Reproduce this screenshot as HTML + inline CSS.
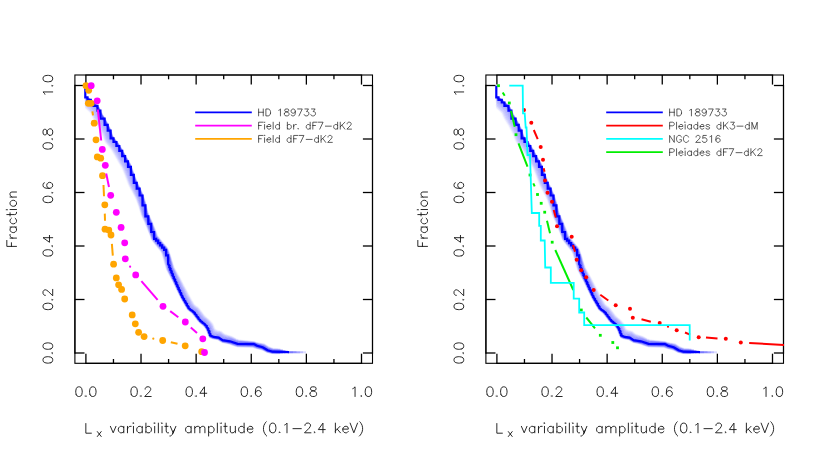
<!DOCTYPE html>
<html><head><meta charset="utf-8"><title>Lx variability amplitude</title>
<style>
html,body{margin:0;padding:0;background:#fff;}
body{width:822px;height:457px;overflow:hidden;font-family:"Liberation Sans",sans-serif;}
svg{display:block;}
text{font-family:"Liberation Sans",sans-serif;}
.h{fill:none;stroke:#111;stroke-linecap:round;stroke-linejoin:round;}
.x{fill:#000;fill-opacity:0;stroke:none;}
</style></head><body>
<svg width="822" height="457" viewBox="0 0 822 457">
<rect width="822" height="457" fill="#fff"/>
<rect x="74.9" y="75.0" width="297.6" height="288.3" fill="none" stroke="#000" stroke-width="1.1"/>
<line x1="85.25" y1="363.3" x2="362.15" y2="363.3" stroke="#000" stroke-width="1.2"/>
<line x1="85.25" y1="75.0" x2="362.15" y2="75.0" stroke="#000" stroke-width="1.2"/>
<line x1="74.9" y1="353.65" x2="74.9" y2="84.85" stroke="#000" stroke-width="1.2"/>
<line x1="372.5" y1="353.65" x2="372.5" y2="84.85" stroke="#000" stroke-width="1.2"/>
<line x1="85.90" y1="363.3" x2="85.90" y2="353.7" stroke="#000" stroke-width="1.3"/>
<line x1="85.90" y1="75.0" x2="85.90" y2="84.6" stroke="#000" stroke-width="1.3"/>
<line x1="113.46" y1="363.3" x2="113.46" y2="359.0" stroke="#000" stroke-width="1.3"/>
<line x1="113.46" y1="75.0" x2="113.46" y2="79.3" stroke="#000" stroke-width="1.3"/>
<line x1="141.02" y1="363.3" x2="141.02" y2="353.7" stroke="#000" stroke-width="1.3"/>
<line x1="141.02" y1="75.0" x2="141.02" y2="84.6" stroke="#000" stroke-width="1.3"/>
<line x1="168.58" y1="363.3" x2="168.58" y2="359.0" stroke="#000" stroke-width="1.3"/>
<line x1="168.58" y1="75.0" x2="168.58" y2="79.3" stroke="#000" stroke-width="1.3"/>
<line x1="196.14" y1="363.3" x2="196.14" y2="353.7" stroke="#000" stroke-width="1.3"/>
<line x1="196.14" y1="75.0" x2="196.14" y2="84.6" stroke="#000" stroke-width="1.3"/>
<line x1="223.70" y1="363.3" x2="223.70" y2="359.0" stroke="#000" stroke-width="1.3"/>
<line x1="223.70" y1="75.0" x2="223.70" y2="79.3" stroke="#000" stroke-width="1.3"/>
<line x1="251.26" y1="363.3" x2="251.26" y2="353.7" stroke="#000" stroke-width="1.3"/>
<line x1="251.26" y1="75.0" x2="251.26" y2="84.6" stroke="#000" stroke-width="1.3"/>
<line x1="278.82" y1="363.3" x2="278.82" y2="359.0" stroke="#000" stroke-width="1.3"/>
<line x1="278.82" y1="75.0" x2="278.82" y2="79.3" stroke="#000" stroke-width="1.3"/>
<line x1="306.38" y1="363.3" x2="306.38" y2="353.7" stroke="#000" stroke-width="1.3"/>
<line x1="306.38" y1="75.0" x2="306.38" y2="84.6" stroke="#000" stroke-width="1.3"/>
<line x1="333.94" y1="363.3" x2="333.94" y2="359.0" stroke="#000" stroke-width="1.3"/>
<line x1="333.94" y1="75.0" x2="333.94" y2="79.3" stroke="#000" stroke-width="1.3"/>
<line x1="361.50" y1="363.3" x2="361.50" y2="353.7" stroke="#000" stroke-width="1.3"/>
<line x1="361.50" y1="75.0" x2="361.50" y2="84.6" stroke="#000" stroke-width="1.3"/>
<line x1="74.9" y1="353.00" x2="84.5" y2="353.00" stroke="#000" stroke-width="1.3"/>
<line x1="372.5" y1="353.00" x2="362.9" y2="353.00" stroke="#000" stroke-width="1.3"/>
<line x1="74.9" y1="299.50" x2="84.5" y2="299.50" stroke="#000" stroke-width="1.3"/>
<line x1="372.5" y1="299.50" x2="362.9" y2="299.50" stroke="#000" stroke-width="1.3"/>
<line x1="74.9" y1="246.00" x2="84.5" y2="246.00" stroke="#000" stroke-width="1.3"/>
<line x1="372.5" y1="246.00" x2="362.9" y2="246.00" stroke="#000" stroke-width="1.3"/>
<line x1="74.9" y1="192.50" x2="84.5" y2="192.50" stroke="#000" stroke-width="1.3"/>
<line x1="372.5" y1="192.50" x2="362.9" y2="192.50" stroke="#000" stroke-width="1.3"/>
<line x1="74.9" y1="139.00" x2="84.5" y2="139.00" stroke="#000" stroke-width="1.3"/>
<line x1="372.5" y1="139.00" x2="362.9" y2="139.00" stroke="#000" stroke-width="1.3"/>
<line x1="74.9" y1="85.50" x2="84.5" y2="85.50" stroke="#000" stroke-width="1.3"/>
<line x1="372.5" y1="85.50" x2="362.9" y2="85.50" stroke="#000" stroke-width="1.3"/>
<path class="h" stroke-width="0.9" d="M76.22,394.66 77.14,396.04 78.52,396.50 79.45,396.50 80.83,396.04 81.75,394.66 82.21,392.35 82.21,390.97 81.75,388.66 80.83,387.28 79.45,386.82 78.52,386.82 77.14,387.28 76.22,388.66 75.76,390.97 75.76,392.35 76.22,394.66M85.44,396.04 85.90,396.50 86.36,396.04 85.90,395.58 85.44,396.04M90.05,394.66 90.97,396.04 92.35,396.50 93.28,396.50 94.66,396.04 95.58,394.66 96.04,392.35 96.04,390.97 95.58,388.66 94.66,387.28 93.28,386.82 92.35,386.82 90.97,387.28 90.05,388.66 89.59,390.97 89.59,392.35 90.05,394.66"/><text class="x" x="74.4" y="396.5" font-size="13.8" textLength="23.1">0.0</text>
<g transform="translate(52.70,353.00) rotate(-90)"><path class="h" stroke-width="0.9" d="M-9.68,-1.84 -8.76,-0.46 -7.38,0.00 -6.45,0.00 -5.07,-0.46 -4.15,-1.84 -3.69,-4.15 -3.69,-5.53 -4.15,-7.84 -5.07,-9.22 -6.45,-9.68 -7.38,-9.68 -8.76,-9.22 -9.68,-7.84 -10.14,-5.53 -10.14,-4.15 -9.68,-1.84M-0.46,-0.46 0.00,0.00 0.46,-0.46 0.00,-0.92 -0.46,-0.46M4.15,-1.84 5.07,-0.46 6.45,0.00 7.38,0.00 8.76,-0.46 9.68,-1.84 10.14,-4.15 10.14,-5.53 9.68,-7.84 8.76,-9.22 7.38,-9.68 6.45,-9.68 5.07,-9.22 4.15,-7.84 3.69,-5.53 3.69,-4.15 4.15,-1.84"/><text class="x" x="-11.5" y="0" font-size="13.8" textLength="23.1">0.0</text></g>
<path class="h" stroke-width="0.9" d="M131.34,394.66 132.26,396.04 133.64,396.50 134.57,396.50 135.95,396.04 136.87,394.66 137.33,392.35 137.33,390.97 136.87,388.66 135.95,387.28 134.57,386.82 133.64,386.82 132.26,387.28 131.34,388.66 130.88,390.97 130.88,392.35 131.34,394.66M140.56,396.04 141.02,396.50 141.48,396.04 141.02,395.58 140.56,396.04M151.16,396.50 144.71,396.50 149.32,391.89 150.24,390.51 150.70,389.58 150.70,388.66 150.24,387.74 149.78,387.28 148.86,386.82 147.01,386.82 146.09,387.28 145.63,387.74 145.17,388.66 145.17,389.12"/><text class="x" x="129.5" y="396.5" font-size="13.8" textLength="23.1">0.2</text>
<g transform="translate(52.70,299.50) rotate(-90)"><path class="h" stroke-width="0.9" d="M-9.68,-1.84 -8.76,-0.46 -7.38,0.00 -6.45,0.00 -5.07,-0.46 -4.15,-1.84 -3.69,-4.15 -3.69,-5.53 -4.15,-7.84 -5.07,-9.22 -6.45,-9.68 -7.38,-9.68 -8.76,-9.22 -9.68,-7.84 -10.14,-5.53 -10.14,-4.15 -9.68,-1.84M-0.46,-0.46 0.00,0.00 0.46,-0.46 0.00,-0.92 -0.46,-0.46M10.14,0.00 3.69,0.00 8.30,-4.61 9.22,-5.99 9.68,-6.92 9.68,-7.84 9.22,-8.76 8.76,-9.22 7.84,-9.68 5.99,-9.68 5.07,-9.22 4.61,-8.76 4.15,-7.84 4.15,-7.38"/><text class="x" x="-11.5" y="0" font-size="13.8" textLength="23.1">0.2</text></g>
<path class="h" stroke-width="0.9" d="M186.46,394.66 187.38,396.04 188.76,396.50 189.69,396.50 191.07,396.04 191.99,394.66 192.45,392.35 192.45,390.97 191.99,388.66 191.07,387.28 189.69,386.82 188.76,386.82 187.38,387.28 186.46,388.66 186.00,390.97 186.00,392.35 186.46,394.66M195.68,396.04 196.14,396.50 196.60,396.04 196.14,395.58 195.68,396.04M204.44,396.50 204.44,386.82 199.83,393.27 206.74,393.27"/><text class="x" x="184.6" y="396.5" font-size="13.8" textLength="23.1">0.4</text>
<g transform="translate(52.70,246.00) rotate(-90)"><path class="h" stroke-width="0.9" d="M-9.68,-1.84 -8.76,-0.46 -7.38,0.00 -6.45,0.00 -5.07,-0.46 -4.15,-1.84 -3.69,-4.15 -3.69,-5.53 -4.15,-7.84 -5.07,-9.22 -6.45,-9.68 -7.38,-9.68 -8.76,-9.22 -9.68,-7.84 -10.14,-5.53 -10.14,-4.15 -9.68,-1.84M-0.46,-0.46 0.00,0.00 0.46,-0.46 0.00,-0.92 -0.46,-0.46M8.30,0.00 8.30,-9.68 3.69,-3.23 10.60,-3.23"/><text class="x" x="-11.5" y="0" font-size="13.8" textLength="23.1">0.4</text></g>
<path class="h" stroke-width="0.9" d="M241.58,394.66 242.50,396.04 243.88,396.50 244.81,396.50 246.19,396.04 247.11,394.66 247.57,392.35 247.57,390.97 247.11,388.66 246.19,387.28 244.81,386.82 243.88,386.82 242.50,387.28 241.58,388.66 241.12,390.97 241.12,392.35 241.58,394.66M250.80,396.04 251.26,396.50 251.72,396.04 251.26,395.58 250.80,396.04M255.41,393.27 255.87,391.89 256.79,390.97 258.18,390.51 258.64,390.51 260.02,390.97 260.94,391.89 261.40,393.27 261.40,393.73 260.94,395.12 260.02,396.04 258.64,396.50 258.18,396.50 256.79,396.04 255.87,395.12 255.41,393.27 255.41,390.97 255.87,388.66 256.79,387.28 258.18,386.82 259.10,386.82 260.48,387.28 260.94,388.20"/><text class="x" x="239.7" y="396.5" font-size="13.8" textLength="23.1">0.6</text>
<g transform="translate(52.70,192.50) rotate(-90)"><path class="h" stroke-width="0.9" d="M-9.68,-1.84 -8.76,-0.46 -7.38,0.00 -6.45,0.00 -5.07,-0.46 -4.15,-1.84 -3.69,-4.15 -3.69,-5.53 -4.15,-7.84 -5.07,-9.22 -6.45,-9.68 -7.38,-9.68 -8.76,-9.22 -9.68,-7.84 -10.14,-5.53 -10.14,-4.15 -9.68,-1.84M-0.46,-0.46 0.00,0.00 0.46,-0.46 0.00,-0.92 -0.46,-0.46M4.15,-3.23 4.61,-4.61 5.53,-5.53 6.92,-5.99 7.38,-5.99 8.76,-5.53 9.68,-4.61 10.14,-3.23 10.14,-2.77 9.68,-1.38 8.76,-0.46 7.38,0.00 6.92,0.00 5.53,-0.46 4.61,-1.38 4.15,-3.23 4.15,-5.53 4.61,-7.84 5.53,-9.22 6.92,-9.68 7.84,-9.68 9.22,-9.22 9.68,-8.30"/><text class="x" x="-11.5" y="0" font-size="13.8" textLength="23.1">0.6</text></g>
<path class="h" stroke-width="0.9" d="M296.70,394.66 297.62,396.04 299.00,396.50 299.93,396.50 301.31,396.04 302.23,394.66 302.69,392.35 302.69,390.97 302.23,388.66 301.31,387.28 299.93,386.82 299.00,386.82 297.62,387.28 296.70,388.66 296.24,390.97 296.24,392.35 296.70,394.66M305.92,396.04 306.38,396.50 306.84,396.04 306.38,395.58 305.92,396.04M310.07,393.27 310.07,394.66 310.53,395.58 310.99,396.04 312.37,396.50 314.22,396.50 315.60,396.04 316.06,395.58 316.52,394.66 316.52,393.27 316.06,392.35 315.14,391.43 313.76,390.97 311.91,390.51 310.99,390.05 310.53,389.12 310.53,388.20 310.99,387.28 312.37,386.82 314.22,386.82 315.60,387.28 316.06,388.20 316.06,389.12 315.60,390.05 314.68,390.51 312.83,390.97 311.45,391.43 310.53,392.35 310.07,393.27"/><text class="x" x="294.9" y="396.5" font-size="13.8" textLength="23.1">0.8</text>
<g transform="translate(52.70,139.00) rotate(-90)"><path class="h" stroke-width="0.9" d="M-9.68,-1.84 -8.76,-0.46 -7.38,0.00 -6.45,0.00 -5.07,-0.46 -4.15,-1.84 -3.69,-4.15 -3.69,-5.53 -4.15,-7.84 -5.07,-9.22 -6.45,-9.68 -7.38,-9.68 -8.76,-9.22 -9.68,-7.84 -10.14,-5.53 -10.14,-4.15 -9.68,-1.84M-0.46,-0.46 0.00,0.00 0.46,-0.46 0.00,-0.92 -0.46,-0.46M3.69,-3.23 3.69,-1.84 4.15,-0.92 4.61,-0.46 5.99,0.00 7.84,0.00 9.22,-0.46 9.68,-0.92 10.14,-1.84 10.14,-3.23 9.68,-4.15 8.76,-5.07 7.38,-5.53 5.53,-5.99 4.61,-6.45 4.15,-7.38 4.15,-8.30 4.61,-9.22 5.99,-9.68 7.84,-9.68 9.22,-9.22 9.68,-8.30 9.68,-7.38 9.22,-6.45 8.30,-5.99 6.45,-5.53 5.07,-5.07 4.15,-4.15 3.69,-3.23"/><text class="x" x="-11.5" y="0" font-size="13.8" textLength="23.1">0.8</text></g>
<path class="h" stroke-width="0.9" d="M355.05,396.50 355.05,386.82 353.66,388.20 352.74,388.66M361.04,396.04 361.50,396.50 361.96,396.04 361.50,395.58 361.04,396.04M365.65,394.66 366.57,396.04 367.95,396.50 368.88,396.50 370.26,396.04 371.18,394.66 371.64,392.35 371.64,390.97 371.18,388.66 370.26,387.28 368.88,386.82 367.95,386.82 366.57,387.28 365.65,388.66 365.19,390.97 365.19,392.35 365.65,394.66"/><text class="x" x="350.0" y="396.5" font-size="13.8" textLength="23.1">1.0</text>
<g transform="translate(52.70,85.50) rotate(-90)"><path class="h" stroke-width="0.9" d="M-6.45,0.00 -6.45,-9.68 -7.84,-8.30 -8.76,-7.84M-0.46,-0.46 0.00,0.00 0.46,-0.46 0.00,-0.92 -0.46,-0.46M4.15,-1.84 5.07,-0.46 6.45,0.00 7.38,0.00 8.76,-0.46 9.68,-1.84 10.14,-4.15 10.14,-5.53 9.68,-7.84 8.76,-9.22 7.38,-9.68 6.45,-9.68 5.07,-9.22 4.15,-7.84 3.69,-5.53 3.69,-4.15 4.15,-1.84"/><text class="x" x="-11.5" y="0" font-size="13.8" textLength="23.1">1.0</text></g>
<g transform="translate(16.50,219.20) rotate(-90)"><path class="h" stroke-width="0.9" d="M-27.20,0.00 -27.20,-9.68 -21.21,-9.68M-27.20,-5.07 -23.51,-5.07M-18.90,0.00 -18.90,-6.45M-18.90,-3.69 -18.44,-5.07 -17.52,-5.99 -16.60,-6.45 -15.21,-6.45M-7.84,0.00 -7.84,-6.45M-7.84,-1.38 -8.76,-0.46 -9.68,0.00 -11.06,0.00 -11.99,-0.46 -12.91,-1.38 -13.37,-2.77 -13.37,-3.69 -12.91,-5.07 -11.99,-5.99 -11.06,-6.45 -9.68,-6.45 -8.76,-5.99 -7.84,-5.07M0.92,-1.38 -0.00,-0.46 -0.92,0.00 -2.31,0.00 -3.23,-0.46 -4.15,-1.38 -4.61,-2.77 -4.61,-3.69 -4.15,-5.07 -3.23,-5.99 -2.31,-6.45 -0.92,-6.45 -0.00,-5.99 0.92,-5.07M6.91,0.00 5.99,0.00 5.07,-0.46 4.61,-1.84 4.61,-9.68M3.23,-6.45 6.45,-6.45M9.68,0.00 9.68,-6.45M9.22,-9.68 9.68,-9.22 10.14,-9.68 9.68,-10.14 9.22,-9.68M13.37,-1.38 14.29,-0.46 15.21,0.00 16.60,0.00 17.52,-0.46 18.44,-1.38 18.90,-2.77 18.90,-3.69 18.44,-5.07 17.52,-5.99 16.60,-6.45 15.21,-6.45 14.29,-5.99 13.37,-5.07 12.91,-3.69 12.91,-2.77 13.37,-1.38M22.13,0.00 22.13,-6.45M27.20,0.00 27.20,-4.61 26.74,-5.99 25.82,-6.45 24.43,-6.45 23.51,-5.99 22.13,-4.61"/><text class="x" x="-29.0" y="0" font-size="13.8" textLength="58.1">Fraction</text></g>
<path class="h" stroke-width="0.9" d="M91.38,433.20 85.84,433.20 85.84,423.52"/><text class="x" x="84.0" y="433.2" font-size="13.8" textLength="7.8">L</text>
<path class="h" stroke-width="0.9" d="M101.20,436.50 97.35,431.60M97.35,436.50 101.20,431.60"/><text class="x" x="96.3" y="436.5" font-size="10.5" textLength="5.9">x</text>
<path class="h" stroke-width="0.9" d="M110.42,426.35 113.19,432.80 115.95,426.35M123.79,432.80 123.79,426.35M123.79,431.42 122.87,432.34 121.95,432.80 120.56,432.80 119.64,432.34 118.72,431.42 118.26,430.03 118.26,429.11 118.72,427.73 119.64,426.81 120.56,426.35 121.95,426.35 122.87,426.81 123.79,427.73M127.48,432.80 127.48,426.35M127.48,429.11 127.94,427.73 128.86,426.81 129.78,426.35 131.17,426.35M133.47,432.80 133.47,426.35M133.01,423.12 133.47,423.58 133.93,423.12 133.47,422.66 133.01,423.12M142.23,432.80 142.23,426.35M142.23,431.42 141.31,432.34 140.39,432.80 139.00,432.80 138.08,432.34 137.16,431.42 136.70,430.03 136.70,429.11 137.16,427.73 138.08,426.81 139.00,426.35 140.39,426.35 141.31,426.81 142.23,427.73M145.92,432.80 145.92,423.12M145.92,431.42 146.84,432.34 147.76,432.80 149.15,432.80 150.07,432.34 150.99,431.42 151.45,430.03 151.45,429.11 150.99,427.73 150.07,426.81 149.15,426.35 147.76,426.35 146.84,426.81 145.92,427.73M154.68,432.80 154.68,426.35M154.22,423.12 154.68,423.58 155.14,423.12 154.68,422.66 154.22,423.12M158.37,432.80 158.37,423.12M162.05,432.80 162.05,426.35M161.59,423.12 162.05,423.58 162.51,423.12 162.05,422.66 161.59,423.12M168.51,432.80 167.59,432.80 166.66,432.34 166.20,430.96 166.20,423.12M164.82,426.35 168.05,426.35M170.35,426.35 173.12,432.80 175.88,426.35M172.66,433.72 174.50,429.57M169.89,436.03 170.35,436.03 171.27,435.57 172.20,434.64 173.12,432.80M191.10,432.80 191.10,426.35M191.10,431.42 190.17,432.34 189.25,432.80 187.87,432.80 186.95,432.34 186.03,431.42 185.56,430.03 185.56,429.11 186.03,427.73 186.95,426.81 187.87,426.35 189.25,426.35 190.17,426.81 191.10,427.73M194.78,432.80 194.78,426.35M204.93,432.80 204.93,428.19 204.47,426.81 203.54,426.35 202.16,426.35 201.24,426.81 199.86,428.19 199.39,426.81 198.47,426.35 197.09,426.35 196.17,426.81 194.78,428.19M199.86,432.80 199.86,428.19M208.61,436.03 208.61,426.35M208.61,431.42 209.54,432.34 210.46,432.80 211.84,432.80 212.76,432.34 213.69,431.42 214.15,430.03 214.15,429.11 213.69,427.73 212.76,426.81 211.84,426.35 210.46,426.35 209.54,426.81 208.61,427.73M217.37,432.80 217.37,423.12M221.06,432.80 221.06,426.35M220.60,423.12 221.06,423.58 221.52,423.12 221.06,422.66 220.60,423.12M227.52,432.80 226.59,432.80 225.67,432.34 225.21,430.96 225.21,423.12M223.83,426.35 227.05,426.35M235.35,432.80 235.35,426.35M235.35,430.96 233.97,432.34 233.05,432.80 231.66,432.80 230.74,432.34 230.28,430.96 230.28,426.35M244.11,432.80 244.11,423.12M244.11,431.42 243.19,432.34 242.27,432.80 240.88,432.80 239.96,432.34 239.04,431.42 238.58,430.03 238.58,429.11 239.04,427.73 239.96,426.81 240.88,426.35 242.27,426.35 243.19,426.81 244.11,427.73M251.95,426.81 251.03,426.35 249.64,426.35 248.72,426.81 247.80,427.73 247.34,429.11 252.87,429.11 252.87,428.19 252.41,427.27 251.95,426.81M252.87,431.42 251.95,432.34 251.03,432.80 249.64,432.80 248.72,432.34 247.80,431.42 247.34,430.03 247.34,429.11M266.70,436.03 265.78,435.11 264.86,433.72 263.93,431.88 263.47,429.57 263.47,427.73 263.93,425.42 264.86,423.58 265.78,422.20 266.24,421.74M269.93,430.96 270.85,432.34 272.23,432.80 273.15,432.80 274.54,432.34 275.46,430.96 275.92,428.65 275.92,427.27 275.46,424.96 274.54,423.58 273.15,423.12 272.23,423.12 270.85,423.58 269.93,424.96 269.47,427.27 269.47,428.65 269.93,430.96M279.15,432.34 279.61,432.80 280.07,432.34 279.61,431.88 279.15,432.34M286.99,432.80 286.99,423.12 285.60,424.50 284.68,424.96M292.98,428.65 301.28,428.65M310.96,432.80 304.50,432.80 309.11,428.19 310.04,426.81 310.50,425.88 310.50,424.96 310.04,424.04 309.57,423.58 308.65,423.12 306.81,423.12 305.89,423.58 305.43,424.04 304.96,424.96 304.96,425.42M314.18,432.34 314.65,432.80 315.11,432.34 314.65,431.88 314.18,432.34M322.94,432.80 322.94,423.12 318.33,429.57 325.25,429.57M335.39,432.80 335.39,423.12M335.39,430.96 340.00,426.35M340.46,432.80 337.23,429.11M347.38,426.81 346.45,426.35 345.07,426.35 344.15,426.81 343.23,427.73 342.77,429.11 348.30,429.11 348.30,428.19 347.84,427.27 347.38,426.81M348.30,431.42 347.38,432.34 346.45,432.80 345.07,432.80 344.15,432.34 343.23,431.42 342.77,430.03 342.77,429.11M350.14,423.12 353.83,432.80 357.52,423.12M359.36,436.03 360.28,435.11 361.21,433.72 362.13,431.88 362.59,429.57 362.59,427.73 362.13,425.42 361.21,423.58 360.28,422.20 359.82,421.74"/><text class="x" x="109.5" y="432.8" font-size="13.8" textLength="254.9">variability amplitude (0.1−2.4 keV)</text>
<g fill="none" stroke="#0000ff" stroke-width="2" stroke-linejoin="round">
<path stroke-opacity="0.208" d="M85.3,96.0 L85.8,98.4 L87.7,100.0 L89.7,101.7 L91.6,103.5 L93.5,105.3 L95.3,107.1 L97.0,108.9 L98.0,111.3 L99.1,113.6 L100.2,115.9 L101.6,118.0 L102.9,120.2 L104.2,122.5 L105.3,124.8 L106.5,127.1 L107.7,129.4 L108.7,131.7 L109.5,134.2 L110.2,136.7 L111.4,138.9 L113.1,140.9 L114.7,142.9 L116.3,144.9 L117.7,147.2 L119.0,149.4 L120.3,151.6 L121.5,153.8 L122.8,156.1 L124.0,158.3 L125.3,160.6 L126.6,162.8 L127.9,165.0 L128.8,167.3 L129.7,169.8 L130.6,172.2 L131.5,174.6 L132.3,177.0 L133.2,179.4 L134.1,181.9 L135.1,184.2 L136.3,186.5 L137.5,188.8 L138.5,191.2 L139.5,193.5 L140.6,195.9 L141.4,198.3 L142.1,200.8 L142.8,203.3 L143.5,205.7 L144.1,208.3 L144.6,210.8 L145.2,213.3 L146.1,215.7 L147.1,218.1 L148.1,220.5 L149.0,222.9 L149.9,225.3 L150.8,227.8 L151.6,230.2 L152.5,232.6 L153.3,235.1 L154.2,237.5 L155.7,239.6 L157.4,241.6 L159.0,243.6 L160.7,245.5 L162.4,247.5 L164.1,249.4 L165.3,251.6 L166.1,254.0 L167.0,256.4 L167.8,258.8 L168.3,261.3 L168.9,263.9 L169.4,266.4 L169.9,268.9 L170.9,271.3 L171.9,273.7 L172.9,276.1 L173.9,278.4 L175.0,280.8 L176.1,283.1 L177.1,285.5 L178.2,287.9 L179.2,290.2 L180.3,292.6 L181.4,294.9 L182.5,297.2 L183.8,299.5 L185.1,301.7 L186.4,304.0 L187.7,306.2 L189.0,308.4 L190.9,310.1 L193.0,311.6 L194.7,313.5 L196.3,315.5 L197.8,317.6 L199.4,319.7 L201.1,321.5 L203.1,323.1 L205.1,324.8 L206.7,326.8 L208.0,329.0 L208.9,331.4 L209.8,333.9 L211.0,336.0 L213.4,337.0 L216.0,337.4 L218.5,337.8 L220.7,339.1 L223.0,340.4 L225.5,340.8 L228.0,341.2 L230.6,341.8 L233.0,342.6 L235.5,343.4 L238.0,344.1 L240.5,344.2 L243.1,344.2 L245.7,344.3 L248.3,344.3 L250.9,344.4 L253.4,344.4 L255.7,345.4 L258.1,346.3 L260.6,347.0 L263.0,347.8 L265.3,349.1 L267.5,350.4 L270.0,351.1 L272.4,351.8 L275.0,351.9 L277.6,352.0 L280.2,352.1 L282.8,352.1 L285.4,352.2 L287.9,352.2"/>
<path stroke-opacity="0.191" d="M85.3,98.9 L86.8,100.6 L88.8,102.4 L90.8,104.2 L92.7,106.0 L94.5,107.7 L96.2,109.6 L97.2,111.9 L98.2,114.2 L99.3,116.4 L100.6,118.5 L102.0,120.7 L103.3,122.9 L104.4,125.2 L105.6,127.5 L106.7,129.8 L107.8,132.2 L108.6,134.7 L109.4,137.1 L110.6,139.4 L112.2,141.4 L113.9,143.4 L115.5,145.5 L116.9,147.7 L118.2,149.9 L119.5,152.1 L120.7,154.3 L121.9,156.5 L123.2,158.8 L124.4,161.0 L125.7,163.2 L127.0,165.4 L128.0,167.7 L128.9,170.1 L129.8,172.5 L130.6,174.9 L131.5,177.3 L132.4,179.8 L133.3,182.2 L134.3,184.6 L135.5,186.9 L136.7,189.2 L137.8,191.5 L138.8,193.8 L139.8,196.2 L140.7,198.6 L141.4,201.0 L142.1,203.4 L142.9,205.9 L143.5,208.4 L144.1,210.9 L144.7,213.5 L145.6,215.9 L146.6,218.3 L147.6,220.7 L148.5,223.1 L149.4,225.5 L150.3,227.9 L151.2,230.4 L152.1,232.8 L153.0,235.3 L153.8,237.8 L155.4,239.8 L157.0,241.8 L158.6,243.9 L160.3,245.8 L162.0,247.8 L163.6,249.7 L164.8,251.8 L165.6,254.2 L166.4,256.6 L167.2,259.0 L167.8,261.5 L168.3,264.0 L168.9,266.5 L169.5,269.0 L170.5,271.4 L171.6,273.8 L172.6,276.2 L173.7,278.6 L174.8,280.9 L175.8,283.3 L176.9,285.6 L177.9,288.0 L179.0,290.3 L180.1,292.7 L181.2,295.0 L182.3,297.3 L183.6,299.6 L184.9,301.8 L186.2,304.1 L187.5,306.3 L188.8,308.6 L190.7,310.2 L192.8,311.7 L194.6,313.6 L196.1,315.7 L197.6,317.8 L199.2,319.8 L200.9,321.6 L202.9,323.3 L204.9,324.9 L206.5,326.9 L207.8,329.2 L208.7,331.6 L209.6,334.0 L210.8,336.2 L213.3,337.2 L215.8,337.6 L218.4,338.0 L220.6,339.4 L222.9,340.7 L225.4,341.1 L228.0,341.5 L230.5,342.1 L233.0,342.9 L235.4,343.8 L237.9,344.5 L240.5,344.5 L243.1,344.6 L245.7,344.6 L248.2,344.7 L250.8,344.7 L253.3,344.8 L255.6,345.8 L258.0,346.6 L260.5,347.3 L262.9,348.1 L265.2,349.4 L267.4,350.7 L269.9,351.4 L272.4,352.0 L275.0,352.1 L277.6,352.2 L280.2,352.3 L282.8,352.3 L285.4,352.4"/>
<path stroke-opacity="0.174" d="M85.3,100.3 L85.9,101.2 L88.0,103.0 L90.0,104.8 L91.9,106.7 L93.7,108.4 L95.3,110.2 L96.3,112.5 L97.3,114.7 L98.4,116.9 L99.7,119.0 L101.0,121.2 L102.3,123.4 L103.5,125.7 L104.6,127.9 L105.8,130.2 L106.9,132.6 L107.7,135.1 L108.5,137.6 L109.7,139.9 L111.4,141.9 L113.0,143.9 L114.7,146.0 L116.1,148.2 L117.4,150.4 L118.7,152.6 L119.9,154.8 L121.1,157.0 L122.3,159.2 L123.6,161.4 L124.9,163.6 L126.2,165.8 L127.2,168.1 L128.0,170.5 L128.9,172.8 L129.8,175.2 L130.7,177.7 L131.6,180.1 L132.5,182.5 L133.5,184.9 L134.7,187.2 L135.9,189.5 L137.0,191.8 L138.1,194.1 L139.1,196.4 L140.0,198.8 L140.7,201.2 L141.5,203.6 L142.2,206.1 L142.9,208.6 L143.5,211.1 L144.1,213.6 L145.0,216.0 L146.1,218.4 L147.1,220.8 L148.0,223.2 L149.0,225.7 L149.9,228.1 L150.8,230.5 L151.7,233.0 L152.6,235.5 L153.4,238.0 L155.0,240.1 L156.6,242.1 L158.2,244.1 L159.9,246.1 L161.5,248.0 L163.2,249.9 L164.3,252.1 L165.1,254.5 L165.9,256.8 L166.7,259.2 L167.2,261.7 L167.8,264.2 L168.4,266.7 L169.0,269.2 L170.1,271.5 L171.2,273.9 L172.3,276.3 L173.4,278.7 L174.5,281.0 L175.6,283.4 L176.6,285.7 L177.7,288.1 L178.8,290.4 L179.9,292.8 L181.0,295.1 L182.1,297.4 L183.4,299.7 L184.7,302.0 L186.0,304.2 L187.3,306.5 L188.6,308.7 L190.5,310.3 L192.7,311.8 L194.4,313.7 L195.9,315.8 L197.5,317.9 L199.0,320.0 L200.8,321.8 L202.8,323.4 L204.7,325.1 L206.3,327.0 L207.6,329.3 L208.6,331.8 L209.5,334.2 L210.7,336.4 L213.1,337.4 L215.7,337.8 L218.3,338.2 L220.6,339.6 L222.8,340.9 L225.3,341.4 L227.9,341.9 L230.4,342.4 L232.9,343.3 L235.4,344.1 L237.9,344.9 L240.5,344.9 L243.0,345.0 L245.6,345.0 L248.2,345.1 L250.7,345.1 L253.3,345.2 L255.6,346.1 L257.9,347.0 L260.4,347.6 L262.8,348.3 L265.1,349.6 L267.3,350.9 L269.8,351.6 L272.4,352.3 L275.0,352.4 L277.6,352.4 L280.2,352.5 L282.8,352.5 L285.4,352.6"/>
<path stroke-opacity="0.154" d="M85.3,102.0 L87.1,103.6 L89.1,105.5 L91.1,107.3 L92.9,109.1 L94.4,110.8 L95.4,113.1 L96.4,115.3 L97.5,117.4 L98.8,119.5 L100.1,121.7 L101.4,123.9 L102.6,126.1 L103.7,128.4 L104.9,130.7 L106.0,133.1 L106.8,135.6 L107.6,138.1 L108.9,140.3 L110.5,142.4 L112.2,144.4 L113.9,146.5 L115.2,148.7 L116.6,150.9 L117.9,153.1 L119.1,155.3 L120.3,157.5 L121.5,159.7 L122.8,161.8 L124.1,164.0 L125.4,166.1 L126.3,168.5 L127.2,170.8 L128.1,173.2 L129.0,175.6 L129.9,178.0 L130.7,180.4 L131.6,182.9 L132.7,185.2 L133.9,187.5 L135.1,189.8 L136.2,192.1 L137.3,194.4 L138.4,196.7 L139.3,199.0 L140.0,201.4 L140.8,203.8 L141.6,206.3 L142.2,208.8 L142.9,211.3 L143.5,213.8 L144.5,216.2 L145.5,218.6 L146.6,221.0 L147.6,223.4 L148.5,225.8 L149.4,228.3 L150.4,230.7 L151.3,233.2 L152.2,235.7 L153.0,238.2 L154.6,240.3 L156.2,242.4 L157.8,244.4 L159.5,246.4 L161.1,248.3 L162.7,250.2 L163.9,252.3 L164.6,254.7 L165.4,257.0 L166.1,259.4 L166.7,261.8 L167.3,264.3 L168.0,266.8 L168.6,269.3 L169.7,271.7 L170.9,274.0 L172.0,276.4 L173.1,278.8 L174.3,281.1 L175.3,283.5 L176.4,285.8 L177.5,288.2 L178.6,290.5 L179.7,292.9 L180.8,295.2 L181.9,297.5 L183.2,299.8 L184.5,302.1 L185.8,304.3 L187.1,306.6 L188.4,308.8 L190.4,310.5 L192.5,312.0 L194.2,313.9 L195.8,316.0 L197.3,318.1 L198.9,320.1 L200.6,321.9 L202.6,323.5 L204.5,325.2 L206.2,327.2 L207.5,329.5 L208.4,331.9 L209.3,334.4 L210.5,336.6 L213.0,337.6 L215.6,338.0 L218.2,338.5 L220.5,339.9 L222.7,341.2 L225.2,341.7 L227.8,342.2 L230.3,342.7 L232.8,343.6 L235.3,344.5 L237.8,345.2 L240.4,345.3 L243.0,345.4 L245.6,345.4 L248.1,345.5 L250.7,345.5 L253.2,345.6 L255.5,346.5 L257.8,347.3 L260.3,347.9 L262.7,348.6 L265.0,349.9 L267.3,351.2 L269.8,351.8 L272.3,352.5 L274.9,352.6 L277.5,352.6 L280.2,352.7 L282.8,352.7"/>
<path stroke-opacity="0.133" d="M85.3,103.4 L86.3,104.3 L88.3,106.2 L90.3,108.0 L92.0,109.7 L93.6,111.5 L94.5,113.7 L95.5,115.9 L96.6,118.0 L97.9,120.0 L99.2,122.2 L100.5,124.3 L101.7,126.6 L102.8,128.8 L104.0,131.1 L105.2,133.5 L106.0,136.0 L106.8,138.6 L108.0,140.8 L109.7,142.9 L111.4,144.9 L113.1,147.0 L114.4,149.2 L115.8,151.4 L117.1,153.5 L118.3,155.7 L119.5,157.9 L120.7,160.1 L121.9,162.2 L123.2,164.4 L124.5,166.5 L125.5,168.8 L126.4,171.2 L127.2,173.5 L128.1,175.9 L129.0,178.3 L129.9,180.8 L130.8,183.2 L131.9,185.6 L133.1,187.9 L134.4,190.1 L135.5,192.4 L136.6,194.7 L137.7,196.9 L138.6,199.3 L139.4,201.6 L140.2,204.0 L141.0,206.5 L141.6,209.0 L142.3,211.5 L143.0,214.0 L144.0,216.4 L145.0,218.8 L146.1,221.2 L147.1,223.6 L148.0,226.0 L149.0,228.4 L149.9,230.9 L150.9,233.4 L151.8,235.9 L152.6,238.4 L154.2,240.5 L155.8,242.6 L157.4,244.7 L159.1,246.7 L160.7,248.6 L162.3,250.5 L163.4,252.6 L164.1,254.9 L164.8,257.2 L165.6,259.6 L166.1,262.0 L166.8,264.5 L167.5,267.0 L168.2,269.4 L169.3,271.8 L170.5,274.2 L171.7,276.5 L172.8,278.9 L174.0,281.2 L175.1,283.6 L176.2,285.9 L177.3,288.3 L178.4,290.6 L179.5,293.0 L180.6,295.3 L181.7,297.6 L183.0,299.9 L184.3,302.2 L185.6,304.5 L186.9,306.7 L188.3,309.0 L190.2,310.6 L192.3,312.1 L194.0,314.0 L195.6,316.1 L197.2,318.2 L198.7,320.3 L200.4,322.1 L202.4,323.7 L204.3,325.3 L206.0,327.3 L207.3,329.6 L208.2,332.1 L209.1,334.6 L210.3,336.8 L212.8,337.8 L215.5,338.3 L218.1,338.7 L220.4,340.1 L222.6,341.5 L225.2,342.0 L227.7,342.5 L230.2,343.1 L232.8,344.0 L235.3,344.9 L237.8,345.6 L240.4,345.7 L242.9,345.7 L245.5,345.8 L248.1,345.9 L250.6,345.9 L253.1,346.0 L255.4,346.9 L257.7,347.7 L260.2,348.2 L262.6,348.9 L264.9,350.2 L267.2,351.4 L269.7,352.1 L272.3,352.7 L274.9,352.8 L277.5,352.9 L280.1,352.9 L282.8,353.0"/>
<path stroke-opacity="0.108" d="M85.3,104.8 L85.4,104.9 L87.5,106.8 L89.4,108.7 L91.2,110.4 L92.7,112.1 L93.7,114.3 L94.6,116.4 L95.7,118.5 L97.0,120.5 L98.3,122.6 L99.6,124.8 L100.7,127.0 L101.9,129.2 L103.1,131.5 L104.3,133.9 L105.1,136.5 L105.9,139.0 L107.2,141.3 L108.8,143.3 L110.5,145.4 L112.2,147.5 L113.6,149.8 L115.0,151.9 L116.2,154.0 L117.4,156.2 L118.7,158.4 L119.9,160.5 L121.1,162.7 L122.4,164.8 L123.7,166.9 L124.7,169.2 L125.5,171.5 L126.4,173.9 L127.3,176.2 L128.2,178.6 L129.1,181.1 L130.0,183.5 L131.1,185.9 L132.3,188.2 L133.6,190.4 L134.7,192.7 L135.9,195.0 L137.0,197.2 L137.9,199.5 L138.7,201.8 L139.5,204.2 L140.3,206.6 L141.0,209.1 L141.7,211.6 L142.4,214.1 L143.4,216.6 L144.5,218.9 L145.6,221.3 L146.6,223.8 L147.6,226.2 L148.5,228.6 L149.5,231.1 L150.5,233.6 L151.4,236.1 L152.2,238.6 L153.8,240.8 L155.4,242.9 L157.0,244.9 L158.6,247.0 L160.3,248.9 L161.8,250.7 L162.9,252.8 L163.6,255.1 L164.3,257.4 L165.0,259.7 L165.5,262.2 L166.3,264.6 L167.0,267.1 L167.7,269.6 L168.9,271.9 L170.2,274.3 L171.3,276.7 L172.5,279.0 L173.7,281.3 L174.8,283.7 L175.9,286.0 L177.0,288.4 L178.1,290.7 L179.3,293.1 L180.4,295.4 L181.5,297.7 L182.8,300.0 L184.1,302.3 L185.4,304.6 L186.8,306.9 L188.1,309.1 L190.0,310.8 L192.1,312.3 L193.9,314.2 L195.4,316.3 L197.0,318.4 L198.5,320.4 L200.3,322.2 L202.2,323.8 L204.2,325.5 L205.8,327.5 L207.1,329.8 L208.1,332.3 L209.0,334.8 L210.2,337.0 L212.7,338.0 L215.3,338.5 L218.0,338.9 L220.3,340.4 L222.6,341.8 L225.1,342.3 L227.6,342.8 L230.2,343.4 L232.7,344.3 L235.2,345.2 L237.7,346.0 L240.3,346.0 L242.9,346.1 L245.5,346.2 L248.0,346.3 L250.6,346.3 L253.0,346.4 L255.3,347.2 L257.6,348.0 L260.1,348.5 L262.5,349.2 L264.8,350.4 L267.1,351.7 L269.7,352.3 L272.2,352.9 L274.8,353.0 L277.5,353.1 L280.1,353.1"/>
<path stroke-opacity="0.077" d="M85.3,106.2 L86.6,107.5 L88.6,109.4 L90.4,111.1 L91.9,112.7 L92.8,114.9 L93.7,117.0 L94.8,119.0 L96.0,121.0 L97.4,123.1 L98.7,125.3 L99.8,127.5 L101.0,129.7 L102.2,132.0 L103.4,134.4 L104.2,137.0 L105.1,139.5 L106.3,141.8 L108.0,143.8 L109.7,145.9 L111.4,148.0 L112.8,150.3 L114.1,152.4 L115.4,154.5 L116.6,156.7 L117.8,158.8 L119.0,161.0 L120.3,163.1 L121.6,165.2 L122.9,167.3 L123.8,169.6 L124.7,171.9 L125.6,174.2 L126.5,176.6 L127.4,179.0 L128.3,181.4 L129.2,183.9 L130.3,186.3 L131.5,188.5 L132.8,190.7 L134.0,193.0 L135.1,195.3 L136.3,197.5 L137.2,199.7 L138.0,202.0 L138.9,204.4 L139.7,206.8 L140.4,209.3 L141.1,211.8 L141.9,214.3 L142.9,216.7 L144.0,219.1 L145.1,221.5 L146.1,223.9 L147.1,226.3 L148.1,228.8 L149.1,231.3 L150.1,233.7 L151.1,236.2 L151.8,238.9 L153.4,241.0 L155.0,243.1 L156.6,245.2 L158.2,247.2 L159.8,249.2 L161.4,251.0 L162.4,253.1 L163.1,255.4 L163.8,257.6 L164.4,259.9 L165.0,262.3 L165.8,264.8 L166.5,267.2 L167.3,269.7 L168.5,272.1 L169.8,274.4 L171.0,276.8 L172.3,279.1 L173.5,281.4 L174.6,283.8 L175.7,286.1 L176.8,288.5 L177.9,290.8 L179.0,293.2 L180.2,295.5 L181.3,297.9 L182.6,300.1 L183.9,302.4 L185.2,304.7 L186.6,307.0 L187.9,309.2 L189.8,310.9 L192.0,312.4 L193.7,314.3 L195.3,316.5 L196.8,318.5 L198.4,320.6 L200.1,322.4 L202.0,323.9 L204.0,325.6 L205.6,327.6 L206.9,329.9 L207.9,332.5 L208.8,334.9 L210.0,337.1 L212.5,338.2 L215.2,338.7 L217.9,339.2 L220.2,340.7 L222.5,342.0 L225.0,342.6 L227.5,343.1 L230.1,343.7 L232.6,344.7 L235.1,345.6 L237.6,346.3 L240.3,346.4 L242.9,346.5 L245.4,346.6 L248.0,346.6 L250.5,346.7 L253.0,346.8 L255.2,347.6 L257.5,348.3 L260.0,348.8 L262.4,349.5 L264.7,350.7 L267.0,351.9 L269.6,352.5 L272.2,353.1 L274.8,353.2 L277.5,353.3 L280.1,353.3"/>
<path stroke-opacity="0.029" d="M85.3,107.7 L85.8,108.2 L87.8,110.1 L89.5,111.7 L91.0,113.4 L91.9,115.5 L92.8,117.6 L93.9,119.5 L95.1,121.5 L96.5,123.6 L97.8,125.7 L98.9,127.9 L100.1,130.1 L101.3,132.4 L102.5,134.8 L103.3,137.4 L104.2,140.0 L105.5,142.3 L107.1,144.3 L108.9,146.4 L110.6,148.5 L112.0,150.8 L113.3,152.9 L114.6,155.0 L115.8,157.2 L117.0,159.3 L118.2,161.4 L119.5,163.5 L120.7,165.6 L122.0,167.7 L123.0,170.0 L123.9,172.2 L124.7,174.5 L125.6,176.9 L126.5,179.3 L127.5,181.8 L128.4,184.2 L129.5,186.6 L130.7,188.9 L132.0,191.1 L133.2,193.3 L134.4,195.5 L135.5,197.7 L136.5,200.0 L137.3,202.2 L138.2,204.6 L139.1,207.0 L139.8,209.5 L140.6,212.0 L141.3,214.5 L142.4,216.9 L143.5,219.3 L144.6,221.7 L145.6,224.1 L146.6,226.5 L147.6,228.9 L148.7,231.4 L149.7,233.9 L150.7,236.4 L151.5,239.1 L153.0,241.3 L154.7,243.4 L156.2,245.5 L157.8,247.5 L159.4,249.4 L160.9,251.3 L162.0,253.3 L162.6,255.6 L163.2,257.8 L163.9,260.1 L164.4,262.5 L165.2,264.9 L166.0,267.4 L166.9,269.9 L168.1,272.2 L169.4,274.6 L170.7,276.9 L172.0,279.2 L173.2,281.5 L174.4,283.9 L175.5,286.2 L176.6,288.6 L177.7,290.9 L178.8,293.3 L180.0,295.6 L181.1,298.0 L182.4,300.2 L183.7,302.6 L185.1,304.9 L186.4,307.1 L187.7,309.4 L189.7,311.0 L191.8,312.6 L193.5,314.5 L195.1,316.6 L196.7,318.7 L198.2,320.7 L199.9,322.5 L201.9,324.1 L203.8,325.7 L205.4,327.7 L206.8,330.1 L207.7,332.6 L208.6,335.1 L209.8,337.3 L212.4,338.4 L215.1,338.9 L217.8,339.4 L220.1,340.9 L222.4,342.3 L224.9,342.9 L227.4,343.4 L230.0,344.0 L232.6,345.0 L235.1,345.9 L237.6,346.7 L240.2,346.8 L242.8,346.9 L245.4,347.0 L247.9,347.0 L250.5,347.1 L252.9,347.1 L255.1,348.0 L257.4,348.7 L259.9,349.1 L262.3,349.7 L264.6,351.0 L267.0,352.2 L269.5,352.8 L272.1,353.3 L274.8,353.5 L277.4,353.5"/>
<path stroke-opacity="0.208" d="M86.4,98.0 L88.5,99.5 L90.5,101.1 L92.4,102.9 L94.3,104.6 L96.1,106.4 L97.8,108.3 L98.9,110.7 L99.9,113.1 L101.1,115.4 L102.4,117.6 L103.8,119.8 L105.0,122.0 L106.2,124.3 L107.3,126.6 L108.5,128.9 L109.6,131.3 L110.3,133.7 L111.1,136.2 L112.3,138.4 L113.9,140.4 L115.5,142.4 L117.1,144.5 L118.5,146.7 L119.8,148.9 L121.1,151.1 L122.3,153.4 L123.6,155.6 L124.8,157.9 L126.1,160.1 L127.4,162.4 L128.7,164.6 L129.7,167.0 L130.5,169.4 L131.4,171.8 L132.3,174.3 L133.2,176.7 L134.0,179.1 L134.9,181.5 L135.9,183.9 L137.1,186.2 L138.3,188.5 L139.3,190.9 L140.3,193.2 L141.3,195.6 L142.1,198.1 L142.8,200.6 L143.5,203.0 L144.2,205.5 L144.8,208.1 L145.3,210.6 L145.9,213.1 L146.7,215.5 L147.7,217.9 L148.7,220.3 L149.6,222.7 L150.5,225.1 L151.4,227.5 L152.3,229.9 L153.1,232.4 L153.9,234.8 L154.7,237.2 L156.3,239.2 L158.0,241.2 L159.6,243.2 L161.3,245.1 L163.0,247.1 L164.7,249.0 L166.0,251.2 L166.8,253.7 L167.7,256.1 L168.5,258.6 L169.1,261.1 L169.6,263.6 L170.1,266.2 L170.6,268.7 L171.7,271.0 L172.7,273.4 L173.6,275.8 L174.6,278.1 L175.7,280.5 L176.8,282.8 L177.8,285.2 L178.9,287.5 L180.0,289.9 L181.0,292.2 L182.1,294.5 L183.2,296.9 L184.5,299.1 L185.8,301.3 L187.0,303.5 L188.3,305.7 L189.6,307.9 L191.6,309.6 L193.7,311.0 L195.3,312.9 L196.9,315.0 L198.4,317.0 L200.0,319.1 L201.8,321.0 L203.8,322.6 L205.7,324.3 L207.4,326.2 L208.6,328.4 L209.5,330.8 L210.4,333.2 L211.7,335.3 L214.0,336.2 L216.4,336.6 L218.9,336.9 L221.0,338.3 L223.2,339.6 L225.7,340.0 L228.3,340.5 L230.8,341.0 L233.2,341.9 L235.6,342.7 L238.1,343.4 L240.6,343.5 L243.2,343.6 L245.8,343.6 L248.4,343.7 L250.9,343.8 L253.5,343.9 L255.9,344.8 L258.3,345.8 L260.8,346.4 L263.2,347.2 L265.4,348.5 L267.6,349.9 L270.1,350.6 L272.6,351.3 L275.1,351.5 L277.7,351.5 L280.2,351.6 L282.8,351.7 L285.4,351.7 L288.0,351.8"/>
<path stroke-opacity="0.191" d="M86.5,98.0 L88.7,99.4 L90.6,101.0 L92.5,102.8 L94.4,104.5 L96.3,106.3 L98.0,108.2 L99.0,110.6 L100.1,113.0 L101.3,115.3 L102.6,117.5 L103.9,119.7 L105.2,121.9 L106.4,124.2 L107.5,126.6 L108.7,128.9 L109.8,131.2 L110.5,133.6 L111.3,136.1 L112.4,138.3 L114.1,140.3 L115.7,142.3 L117.3,144.3 L118.6,146.5 L120.0,148.8 L121.3,151.0 L122.5,153.3 L123.8,155.5 L125.0,157.8 L126.3,160.0 L127.6,162.3 L128.9,164.5 L129.9,166.9 L130.8,169.3 L131.6,171.7 L132.5,174.2 L133.4,176.6 L134.3,179.0 L135.1,181.5 L136.2,183.8 L137.3,186.1 L138.5,188.4 L139.5,190.8 L140.5,193.2 L141.5,195.5 L142.3,198.0 L143.1,200.5 L143.8,203.0 L144.5,205.5 L145.0,208.0 L145.6,210.5 L146.1,213.0 L147.0,215.4 L148.0,217.8 L149.0,220.2 L149.9,222.6 L150.8,225.0 L151.7,227.4 L152.6,229.8 L153.5,232.2 L154.3,234.6 L155.1,237.0 L156.7,239.0 L158.3,241.0 L159.9,243.0 L161.6,244.9 L163.3,246.9 L165.1,248.8 L166.3,251.1 L167.1,253.5 L168.0,256.0 L168.9,258.5 L169.4,261.0 L170.0,263.5 L170.5,266.0 L171.1,268.5 L172.2,270.9 L173.2,273.2 L174.2,275.6 L175.3,277.9 L176.3,280.2 L177.4,282.5 L178.5,284.9 L179.6,287.2 L180.7,289.5 L181.8,291.8 L182.9,294.2 L183.9,296.5 L185.2,298.7 L186.4,300.8 L187.7,303.0 L189.0,305.2 L190.3,307.4 L192.2,309.1 L194.3,310.5 L196.0,312.4 L197.5,314.4 L199.0,316.5 L200.6,318.6 L202.4,320.4 L204.4,322.1 L206.4,323.8 L208.0,325.8 L209.3,327.9 L210.1,330.2 L211.0,332.6 L212.3,334.5 L214.6,335.4 L216.9,335.8 L219.2,336.2 L221.3,337.5 L223.4,338.8 L225.9,339.3 L228.5,339.8 L230.9,340.4 L233.3,341.3 L235.7,342.2 L238.1,342.9 L240.7,343.0 L243.3,343.2 L245.8,343.3 L248.4,343.4 L251.0,343.5 L253.6,343.6 L256.0,344.5 L258.4,345.4 L260.9,346.0 L263.4,346.7 L265.6,348.1 L267.8,349.4 L270.2,350.2 L272.6,350.9 L275.2,351.1 L277.7,351.2 L280.3,351.2 L282.8,351.3 L285.4,351.4"/>
<path stroke-opacity="0.174" d="M86.6,97.9 L88.8,99.3 L90.8,100.9 L92.7,102.6 L94.5,104.4 L96.4,106.2 L98.1,108.1 L99.2,110.5 L100.3,112.8 L101.4,115.2 L102.8,117.4 L104.1,119.6 L105.4,121.8 L106.6,124.2 L107.7,126.5 L108.9,128.8 L109.9,131.1 L110.7,133.6 L111.4,136.0 L112.6,138.2 L114.2,140.2 L115.9,142.2 L117.5,144.2 L118.8,146.4 L120.1,148.6 L121.5,150.9 L122.7,153.1 L123.9,155.4 L125.2,157.7 L126.5,159.9 L127.8,162.2 L129.1,164.4 L130.1,166.8 L131.0,169.2 L131.8,171.7 L132.7,174.1 L133.6,176.5 L134.5,178.9 L135.3,181.4 L136.4,183.7 L137.5,186.0 L138.7,188.3 L139.7,190.7 L140.7,193.1 L141.8,195.5 L142.6,197.9 L143.3,200.4 L144.0,202.9 L144.7,205.4 L145.3,207.9 L145.8,210.4 L146.4,212.9 L147.3,215.3 L148.3,217.7 L149.3,220.1 L150.3,222.4 L151.2,224.9 L152.1,227.2 L153.0,229.6 L153.8,232.0 L154.7,234.4 L155.5,236.8 L157.0,238.8 L158.6,240.7 L160.3,242.7 L161.9,244.7 L163.6,246.6 L165.4,248.6 L166.6,250.9 L167.5,253.4 L168.3,255.9 L169.2,258.4 L169.8,260.9 L170.4,263.4 L171.0,265.9 L171.6,268.4 L172.7,270.7 L173.8,273.0 L174.8,275.3 L175.9,277.6 L177.0,279.9 L178.1,282.3 L179.2,284.6 L180.3,286.9 L181.4,289.2 L182.5,291.5 L183.6,293.8 L184.7,296.1 L185.9,298.3 L187.1,300.4 L188.4,302.6 L189.6,304.7 L190.9,306.9 L192.8,308.5 L194.9,310.0 L196.6,311.8 L198.0,313.8 L199.6,315.9 L201.2,318.0 L203.0,319.9 L205.1,321.6 L207.0,323.4 L208.7,325.3 L209.9,327.3 L210.7,329.6 L211.6,331.9 L213.0,333.8 L215.2,334.6 L217.4,335.0 L219.6,335.4 L221.5,336.7 L223.6,338.1 L226.2,338.6 L228.7,339.2 L231.1,339.8 L233.4,340.7 L235.8,341.7 L238.2,342.5 L240.7,342.6 L243.3,342.7 L245.9,342.9 L248.4,343.0 L251.0,343.2 L253.6,343.3 L256.0,344.2 L258.5,345.1 L261.1,345.6 L263.6,346.3 L265.7,347.7 L267.9,349.0 L270.3,349.8 L272.7,350.6 L275.2,350.7 L277.8,350.8 L280.3,350.9 L282.8,351.0 L285.4,351.1"/>
<path stroke-opacity="0.154" d="M86.7,97.9 L89.0,99.2 L90.9,100.8 L92.8,102.5 L94.7,104.3 L96.6,106.1 L98.3,108.0 L99.4,110.4 L100.4,112.7 L101.6,115.1 L103.0,117.3 L104.3,119.5 L105.6,121.8 L106.7,124.1 L107.9,126.4 L109.1,128.7 L110.1,131.0 L110.9,133.5 L111.6,135.9 L112.8,138.1 L114.4,140.1 L116.0,142.1 L117.6,144.1 L119.0,146.3 L120.3,148.5 L121.6,150.8 L122.9,153.0 L124.1,155.3 L125.4,157.6 L126.7,159.8 L128.0,162.1 L129.3,164.3 L130.3,166.7 L131.2,169.1 L132.0,171.6 L132.9,174.0 L133.8,176.4 L134.7,178.9 L135.5,181.3 L136.6,183.6 L137.7,185.9 L138.9,188.2 L139.9,190.6 L141.0,193.0 L142.0,195.4 L142.8,197.8 L143.5,200.3 L144.3,202.8 L145.0,205.3 L145.5,207.8 L146.1,210.3 L146.6,212.8 L147.5,215.2 L148.6,217.6 L149.6,220.0 L150.6,222.3 L151.5,224.7 L152.4,227.1 L153.3,229.5 L154.2,231.8 L155.1,234.2 L155.8,236.6 L157.4,238.6 L159.0,240.5 L160.6,242.5 L162.3,244.5 L164.0,246.4 L165.7,248.4 L167.0,250.7 L167.8,253.2 L168.7,255.8 L169.5,258.3 L170.1,260.8 L170.8,263.3 L171.4,265.8 L172.1,268.2 L173.2,270.5 L174.3,272.8 L175.4,275.1 L176.5,277.4 L177.6,279.7 L178.7,282.0 L179.8,284.3 L180.9,286.6 L182.1,288.9 L183.2,291.2 L184.3,293.4 L185.4,295.7 L186.6,297.9 L187.8,300.0 L189.0,302.1 L190.3,304.3 L191.6,306.4 L193.5,308.0 L195.5,309.5 L197.2,311.3 L198.6,313.3 L200.2,315.3 L201.8,317.5 L203.6,319.4 L205.7,321.1 L207.7,322.9 L209.3,324.8 L210.5,326.8 L211.3,329.0 L212.2,331.3 L213.6,333.0 L215.7,333.9 L217.8,334.2 L219.9,334.6 L221.8,335.9 L223.9,337.3 L226.4,337.9 L228.8,338.5 L231.2,339.2 L233.5,340.1 L235.9,341.1 L238.3,342.0 L240.8,342.1 L243.3,342.3 L245.9,342.5 L248.5,342.7 L251.1,342.9 L253.7,343.0 L256.1,343.9 L258.6,344.7 L261.2,345.2 L263.7,345.9 L265.9,347.2 L268.0,348.6 L270.4,349.4 L272.8,350.2 L275.3,350.3 L277.8,350.4 L280.3,350.5 L282.8,350.6"/>
<path stroke-opacity="0.133" d="M86.8,97.8 L89.1,99.1 L91.0,100.7 L92.9,102.4 L94.8,104.2 L96.7,106.0 L98.4,107.9 L99.5,110.3 L100.6,112.6 L101.8,115.0 L103.1,117.2 L104.5,119.4 L105.8,121.7 L106.9,124.0 L108.1,126.3 L109.2,128.6 L110.3,130.9 L111.0,133.4 L111.8,135.8 L113.0,138.0 L114.6,140.0 L116.2,142.0 L117.8,144.0 L119.2,146.2 L120.5,148.4 L121.8,150.7 L123.1,152.9 L124.3,155.2 L125.6,157.5 L126.8,159.7 L128.2,162.0 L129.5,164.2 L130.5,166.6 L131.4,169.1 L132.2,171.5 L133.1,173.9 L134.0,176.4 L134.9,178.8 L135.7,181.2 L136.8,183.5 L137.9,185.8 L139.1,188.2 L140.2,190.5 L141.2,192.9 L142.2,195.3 L143.0,197.8 L143.8,200.3 L144.5,202.8 L145.2,205.2 L145.8,207.8 L146.3,210.3 L146.9,212.8 L147.8,215.2 L148.9,217.5 L149.9,219.9 L150.9,222.2 L151.8,224.6 L152.8,227.0 L153.7,229.3 L154.6,231.7 L155.4,234.0 L156.2,236.4 L157.7,238.3 L159.3,240.3 L160.9,242.3 L162.6,244.3 L164.3,246.2 L166.0,248.2 L167.3,250.5 L168.2,253.1 L169.0,255.6 L169.9,258.1 L170.5,260.7 L171.2,263.2 L171.9,265.6 L172.5,268.1 L173.7,270.4 L174.8,272.6 L176.0,274.9 L177.1,277.1 L178.3,279.4 L179.4,281.7 L180.5,284.0 L181.6,286.3 L182.8,288.5 L183.9,290.8 L185.0,293.1 L186.1,295.4 L187.3,297.5 L188.5,299.6 L189.7,301.6 L190.9,303.8 L192.2,305.9 L194.1,307.5 L196.2,309.0 L197.8,310.8 L199.2,312.7 L200.7,314.8 L202.4,316.9 L204.3,318.9 L206.4,320.6 L208.4,322.4 L210.0,324.3 L211.2,326.2 L211.9,328.4 L212.8,330.7 L214.3,332.2 L216.3,333.1 L218.3,333.4 L220.3,333.8 L222.1,335.2 L224.1,336.5 L226.6,337.2 L229.0,337.8 L231.4,338.6 L233.6,339.6 L235.9,340.6 L238.3,341.5 L240.9,341.7 L243.4,341.9 L246.0,342.1 L248.5,342.3 L251.1,342.5 L253.7,342.8 L256.2,343.6 L258.7,344.3 L261.3,344.8 L263.9,345.4 L266.0,346.8 L268.1,348.2 L270.5,349.0 L272.9,349.8 L275.4,349.9 L277.8,350.0 L280.3,350.1 L282.9,350.3"/>
<path stroke-opacity="0.108" d="M86.9,97.8 L89.2,99.0 L91.2,100.6 L93.1,102.3 L95.0,104.0 L96.8,105.8 L98.6,107.8 L99.7,110.1 L100.8,112.5 L102.0,114.9 L103.3,117.1 L104.6,119.3 L105.9,121.6 L107.1,123.9 L108.3,126.2 L109.4,128.5 L110.5,130.8 L111.2,133.3 L112.0,135.7 L113.2,137.9 L114.8,139.9 L116.4,141.9 L118.0,143.9 L119.3,146.1 L120.7,148.3 L122.0,150.5 L123.2,152.8 L124.5,155.1 L125.7,157.4 L127.0,159.6 L128.4,161.9 L129.7,164.1 L130.7,166.5 L131.6,169.0 L132.4,171.4 L133.3,173.9 L134.2,176.3 L135.1,178.7 L135.9,181.1 L137.0,183.5 L138.2,185.8 L139.3,188.1 L140.4,190.4 L141.4,192.8 L142.5,195.2 L143.3,197.7 L144.0,200.2 L144.8,202.7 L145.5,205.2 L146.0,207.7 L146.6,210.2 L147.2,212.7 L148.1,215.1 L149.1,217.4 L150.2,219.8 L151.2,222.1 L152.2,224.5 L153.1,226.9 L154.1,229.2 L154.9,231.5 L155.8,233.8 L156.6,236.2 L158.1,238.1 L159.7,240.1 L161.3,242.1 L162.9,244.0 L164.6,246.0 L166.4,248.0 L167.6,250.4 L168.5,252.9 L169.4,255.5 L170.2,258.0 L170.8,260.6 L171.6,263.1 L172.3,265.5 L173.0,267.9 L174.2,270.2 L175.4,272.4 L176.5,274.7 L177.7,276.9 L178.9,279.1 L180.0,281.4 L181.2,283.7 L182.3,286.0 L183.5,288.2 L184.6,290.5 L185.8,292.7 L186.8,295.0 L188.0,297.1 L189.2,299.1 L190.4,301.2 L191.6,303.3 L192.9,305.4 L194.7,307.0 L196.8,308.5 L198.4,310.2 L199.8,312.2 L201.3,314.2 L203.0,316.4 L204.9,318.4 L207.0,320.1 L209.0,321.9 L210.6,323.8 L211.8,325.7 L212.5,327.8 L213.4,330.0 L214.9,331.5 L216.9,332.3 L218.8,332.6 L220.6,333.0 L222.3,334.4 L224.3,335.8 L226.8,336.5 L229.2,337.2 L231.5,338.0 L233.7,339.0 L236.0,340.1 L238.4,341.0 L240.9,341.2 L243.4,341.5 L246.0,341.7 L248.6,342.0 L251.2,342.2 L253.8,342.5 L256.3,343.3 L258.8,344.0 L261.5,344.4 L264.0,345.0 L266.2,346.4 L268.2,347.8 L270.6,348.6 L273.0,349.4 L275.4,349.5 L277.9,349.7 L280.4,349.8"/>
<path stroke-opacity="0.077" d="M87.0,97.7 L89.4,98.9 L91.3,100.5 L93.2,102.2 L95.1,103.9 L97.0,105.7 L98.7,107.7 L99.9,110.0 L100.9,112.4 L102.1,114.8 L103.5,117.0 L104.8,119.2 L106.1,121.5 L107.3,123.8 L108.4,126.1 L109.6,128.4 L110.6,130.7 L111.4,133.2 L112.1,135.6 L113.3,137.8 L115.0,139.8 L116.6,141.8 L118.2,143.8 L119.5,146.0 L120.8,148.2 L122.2,150.4 L123.4,152.7 L124.7,155.0 L125.9,157.3 L127.2,159.6 L128.5,161.8 L129.9,164.0 L130.9,166.4 L131.8,168.9 L132.7,171.3 L133.5,173.8 L134.4,176.2 L135.3,178.6 L136.2,181.0 L137.2,183.4 L138.4,185.7 L139.5,188.0 L140.6,190.3 L141.6,192.7 L142.7,195.1 L143.5,197.6 L144.3,200.1 L145.0,202.6 L145.7,205.1 L146.3,207.6 L146.9,210.1 L147.4,212.6 L148.3,215.0 L149.4,217.3 L150.5,219.6 L151.5,222.0 L152.5,224.4 L153.5,226.7 L154.4,229.0 L155.3,231.3 L156.2,233.6 L156.9,236.0 L158.4,237.9 L160.0,239.8 L161.6,241.8 L163.2,243.8 L164.9,245.8 L166.7,247.8 L168.0,250.2 L168.8,252.8 L169.7,255.4 L170.5,257.9 L171.2,260.5 L172.0,262.9 L172.7,265.4 L173.5,267.8 L174.7,270.0 L175.9,272.2 L177.1,274.4 L178.3,276.6 L179.5,278.8 L180.7,281.1 L181.9,283.4 L183.0,285.7 L184.2,287.9 L185.3,290.1 L186.5,292.3 L187.6,294.6 L188.8,296.7 L189.9,298.7 L191.0,300.7 L192.3,302.8 L193.5,305.0 L195.4,306.5 L197.4,307.9 L199.0,309.7 L200.4,311.6 L201.9,313.6 L203.6,315.8 L205.5,317.9 L207.7,319.6 L209.7,321.4 L211.3,323.3 L212.4,325.1 L213.2,327.2 L214.0,329.4 L215.6,330.7 L217.5,331.5 L219.2,331.8 L221.0,332.2 L222.6,333.6 L224.5,335.0 L227.0,335.8 L229.4,336.5 L231.7,337.3 L233.8,338.4 L236.1,339.6 L238.5,340.5 L241.0,340.8 L243.5,341.1 L246.1,341.4 L248.6,341.6 L251.2,341.9 L253.8,342.2 L256.3,343.0 L258.9,343.6 L261.6,344.0 L264.2,344.5 L266.3,345.9 L268.4,347.3 L270.7,348.2 L273.1,349.0 L275.5,349.2 L277.9,349.3 L280.4,349.4"/>
<path stroke-opacity="0.029" d="M87.1,97.6 L89.5,98.8 L91.5,100.4 L93.4,102.1 L95.3,103.8 L97.1,105.6 L98.9,107.5 L100.0,109.9 L101.1,112.3 L102.3,114.7 L103.7,116.9 L105.0,119.1 L106.3,121.4 L107.5,123.7 L108.6,126.0 L109.8,128.3 L110.8,130.7 L111.6,133.1 L112.3,135.5 L113.5,137.7 L115.1,139.7 L116.8,141.7 L118.3,143.7 L119.7,145.9 L121.0,148.1 L122.4,150.3 L123.6,152.6 L124.9,154.9 L126.1,157.2 L127.4,159.5 L128.7,161.7 L130.1,163.9 L131.1,166.4 L132.0,168.8 L132.9,171.3 L133.7,173.7 L134.6,176.1 L135.5,178.5 L136.4,180.9 L137.4,183.3 L138.6,185.6 L139.8,187.9 L140.8,190.3 L141.9,192.6 L142.9,195.0 L143.7,197.5 L144.5,200.0 L145.2,202.5 L146.0,205.0 L146.5,207.5 L147.1,210.0 L147.7,212.5 L148.6,214.9 L149.7,217.2 L150.8,219.5 L151.8,221.9 L152.8,224.2 L153.8,226.6 L154.8,228.9 L155.7,231.2 L156.6,233.4 L157.3,235.8 L158.8,237.7 L160.3,239.6 L161.9,241.6 L163.6,243.6 L165.3,245.6 L167.0,247.6 L168.3,250.0 L169.2,252.6 L170.0,255.2 L170.9,257.8 L171.5,260.4 L172.4,262.8 L173.2,265.2 L174.0,267.6 L175.2,269.9 L176.5,272.0 L177.7,274.2 L178.9,276.4 L180.2,278.6 L181.3,280.8 L182.5,283.1 L183.7,285.3 L184.9,287.6 L186.0,289.8 L187.2,292.0 L188.3,294.2 L189.5,296.3 L190.6,298.3 L191.7,300.2 L192.9,302.3 L194.1,304.5 L196.0,306.0 L198.0,307.4 L199.6,309.2 L201.0,311.0 L202.5,313.1 L204.2,315.3 L206.2,317.4 L208.3,319.2 L210.3,321.0 L212.0,322.8 L213.1,324.6 L213.8,326.6 L214.6,328.8 L216.3,330.0 L218.1,330.8 L219.7,331.1 L221.3,331.4 L222.8,332.8 L224.7,334.3 L227.2,335.1 L229.6,335.9 L231.9,336.7 L234.0,337.9 L236.2,339.0 L238.5,340.0 L241.0,340.4 L243.5,340.7 L246.1,341.0 L248.7,341.3 L251.3,341.6 L253.9,341.9 L256.4,342.7 L259.0,343.3 L261.7,343.6 L264.3,344.1 L266.4,345.5 L268.5,346.9 L270.8,347.8 L273.1,348.6 L275.6,348.8 L278.0,348.9"/>
<path stroke-opacity="0.136" d="M288.0,352.3 L293.0,352.3"/>
<path stroke-opacity="0.136" d="M288.0,352.0 L296.5,352.0"/>
<path stroke-opacity="0.136" d="M288.0,352.4 L300.0,352.4"/>
<path stroke-opacity="0.136" d="M288.0,352.2 L303.0,352.2"/>
<path stroke-opacity="0.136" d="M288.0,352.3 L306.0,352.3"/>
</g>
<path d="M85.3,85.7 L85.3,97.4 L87.5,97.4 L87.5,99.9 L90.8,99.9 L90.8,102.5 L93.4,102.5 L93.4,105.8 L97.5,105.8 L97.5,110.7 L100.4,110.7 L100.4,118.6 L104.6,118.6 L104.6,124.8 L107.7,124.8 L107.7,130.6 L110.6,130.6 L110.6,138.4 L113.5,138.4 L113.5,142.0 L116.4,142.0 L116.4,146.0 L119.3,146.0 L119.3,150.8 L122.2,150.8 L122.2,156.1 L125.1,156.1 L125.1,161.3 L128.0,161.3 L128.0,166.9 L130.9,166.9 L130.9,174.9 L133.8,174.9 L133.8,182.9 L136.7,182.9 L136.7,188.7 L139.6,188.7 L139.6,195.5 L142.5,195.5 L142.5,205.3 L145.4,205.3 L145.4,216.4 L148.3,216.4 L148.3,223.8 L151.2,223.8 L151.2,232.0 L154.1,232.0 L154.1,238.8 L156.1,238.8 L156.1,240.6 L158.1,240.6 L158.1,243.1 L160.1,243.1 L160.1,245.4 L162.1,245.4 L162.1,247.6 L164.1,247.6 L164.1,249.9 L166.1,249.9 L166.1,255.4 L168.1,255.4 L168.1,262.9 L168.2,264.2 L169.6,265.8 L169.2,267.0 L170.6,268.7 L170.2,269.8 L171.7,271.4 L171.4,272.5 L172.9,274.2 L172.5,275.3 L174.0,277.0 L173.7,278.1 L175.2,279.7 L174.9,280.8 L176.4,282.5 L176.1,283.6 L177.6,285.2 L177.3,286.3 L178.8,288.0 L178.5,289.1 L180.1,290.7 L179.8,291.8 L181.3,293.4 L181.0,294.5 L182.6,296.2 L182.3,297.2 L184.0,298.8 L183.8,299.8 L185.5,301.4 L185.3,302.4 L187.0,304.0 L186.8,305.0 L188.5,306.6 L188.3,307.6 L190.1,309.1 L190.4,309.7 L192.5,310.8 L192.9,311.4 L194.8,312.8 L194.8,313.7 L196.6,315.2 L196.6,316.1 L198.4,317.6 L198.4,318.5 L200.2,320.0 L200.3,320.8 L202.3,322.0 L202.6,322.7 L204.7,323.9 L204.9,324.7 L206.8,326.0 L206.7,327.0 L208.3,328.6 L208.0,329.7 L209.5,331.3 L209.1,332.5 L210.5,334.2 L210.1,335.3 L212.3,336.3 L213.8,336.9 L218.8,337.6 L222.6,340.1 L230.0,341.3 L237.6,343.8 L253.9,344.1 L257.0,345.7 L262.7,347.3 L267.7,350.3 L272.7,351.7 L289.0,352.1" fill="none" stroke="#0000ff" stroke-width="2.2" stroke-linejoin="miter"/>
<line x1="92.4" y1="111.3" x2="93.0" y2="115.3" stroke="#ffa500" stroke-width="2.0" stroke-linecap="butt"/><line x1="103.5" y1="185.0" x2="104.0" y2="196.3" stroke="#ffa500" stroke-width="2.0" stroke-linecap="butt"/><line x1="104.8" y1="213.6" x2="105.0" y2="220.7" stroke="#ffa500" stroke-width="2.0" stroke-linecap="butt"/><line x1="111.9" y1="243.8" x2="112.8" y2="255.7" stroke="#ffa500" stroke-width="2.0" stroke-linecap="butt"/><line x1="170.8" y1="342.2" x2="177.5" y2="343.8" stroke="#ffa500" stroke-width="2.0" stroke-linecap="butt"/>
<circle cx="153.3" cy="338.7" r="1.1" fill="#ffa500"/>
<circle cx="86.0" cy="85.7" r="3.4" fill="#ffa500"/><circle cx="88.7" cy="90.3" r="3.4" fill="#ffa500"/><circle cx="88.3" cy="103.3" r="3.4" fill="#ffa500"/><circle cx="91.2" cy="103.3" r="3.4" fill="#ffa500"/><circle cx="94.2" cy="123.2" r="3.4" fill="#ffa500"/><circle cx="96.0" cy="139.8" r="3.4" fill="#ffa500"/><circle cx="97.3" cy="156.9" r="3.4" fill="#ffa500"/><circle cx="100.7" cy="158.2" r="3.4" fill="#ffa500"/><circle cx="102.5" cy="175.7" r="3.4" fill="#ffa500"/><circle cx="104.8" cy="204.8" r="3.4" fill="#ffa500"/><circle cx="105.0" cy="229.2" r="3.4" fill="#ffa500"/><circle cx="108.8" cy="230.1" r="3.4" fill="#ffa500"/><circle cx="111.0" cy="235.0" r="3.4" fill="#ffa500"/><circle cx="113.6" cy="264.2" r="3.4" fill="#ffa500"/><circle cx="116.3" cy="277.9" r="3.4" fill="#ffa500"/><circle cx="118.6" cy="284.8" r="3.4" fill="#ffa500"/><circle cx="121.6" cy="289.4" r="3.4" fill="#ffa500"/><circle cx="124.7" cy="299.0" r="3.4" fill="#ffa500"/><circle cx="132.2" cy="314.9" r="3.4" fill="#ffa500"/><circle cx="135.3" cy="323.8" r="3.4" fill="#ffa500"/><circle cx="138.6" cy="332.3" r="3.4" fill="#ffa500"/><circle cx="144.1" cy="336.6" r="3.4" fill="#ffa500"/><circle cx="162.7" cy="340.5" r="3.4" fill="#ffa500"/><circle cx="185.2" cy="345.8" r="3.4" fill="#ffa500"/><circle cx="201.7" cy="351.7" r="3.4" fill="#ffa500"/>
<line x1="97.8" y1="109.5" x2="101.2" y2="140.5" stroke="#ff00ff" stroke-width="2.0" stroke-linecap="butt"/><line x1="106.2" y1="173.5" x2="109.0" y2="187.0" stroke="#ff00ff" stroke-width="2.0" stroke-linecap="butt"/><line x1="141.4" y1="281.2" x2="157.6" y2="299.8" stroke="#ff00ff" stroke-width="2.0" stroke-linecap="butt"/><line x1="170.2" y1="311.1" x2="178.3" y2="317.3" stroke="#ff00ff" stroke-width="2.0" stroke-linecap="butt"/><line x1="190.8" y1="327.5" x2="197.0" y2="333.0" stroke="#ff00ff" stroke-width="2.0" stroke-linecap="butt"/>
<circle cx="130.1" cy="266.7" r="1.1" fill="#ff00ff"/>
<circle cx="91.2" cy="85.7" r="3.4" fill="#ff00ff"/><circle cx="97.2" cy="100.8" r="3.4" fill="#ff00ff"/><circle cx="102.3" cy="149.4" r="3.4" fill="#ff00ff"/><circle cx="105.3" cy="165.3" r="3.4" fill="#ff00ff"/><circle cx="110.7" cy="195.3" r="3.4" fill="#ff00ff"/><circle cx="116.3" cy="212.3" r="3.4" fill="#ff00ff"/><circle cx="121.1" cy="227.4" r="3.4" fill="#ff00ff"/><circle cx="124.7" cy="242.8" r="3.4" fill="#ff00ff"/><circle cx="125.3" cy="258.8" r="3.4" fill="#ff00ff"/><circle cx="135.7" cy="274.9" r="3.4" fill="#ff00ff"/><circle cx="163.0" cy="306.3" r="3.4" fill="#ff00ff"/><circle cx="185.3" cy="322.0" r="3.4" fill="#ff00ff"/><circle cx="202.8" cy="338.8" r="3.4" fill="#ff00ff"/><circle cx="204.5" cy="352.5" r="3.4" fill="#ff00ff"/>
<line x1="195.2" y1="112.40" x2="251.8" y2="112.40" stroke="#0000ff" stroke-width="1.9"/>
<path class="h" stroke-width="0.68" d="M263.25,115.90 263.25,108.96M258.62,115.90 258.62,108.96M258.62,112.26 263.25,112.26M270.52,113.26 270.19,114.25 269.86,114.91 269.20,115.57 268.21,115.90 265.89,115.90 265.89,108.96 268.21,108.96 269.20,109.29 269.86,109.95 270.19,110.61 270.52,111.60 270.52,113.26M280.44,115.90 280.44,108.96 279.44,109.95 278.78,110.28M284.40,113.59 284.40,114.58 284.73,115.24 285.06,115.57 286.05,115.90 287.38,115.90 288.37,115.57 288.70,115.24 289.03,114.58 289.03,113.59 288.70,112.93 288.04,112.26 287.05,111.93 285.72,111.60 285.06,111.27 284.73,110.61 284.73,109.95 285.06,109.29 286.05,108.96 287.38,108.96 288.37,109.29 288.70,109.95 288.70,110.61 288.37,111.27 287.71,111.60 286.38,111.93 285.39,112.26 284.73,112.93 284.40,113.59M291.34,114.91 291.67,115.57 292.66,115.90 293.32,115.90 294.32,115.57 294.98,114.58 295.31,112.93 295.31,111.27 294.98,109.95 294.32,109.29 293.32,108.96 292.99,108.96 292.00,109.29 291.34,109.95 291.01,110.94 291.01,111.27 291.34,112.26 292.00,112.93 292.99,113.26 293.32,113.26 294.32,112.93 294.98,112.26 295.31,111.27M298.94,115.90 302.25,108.96 297.62,108.96M304.89,108.96 308.53,108.96 306.54,111.60 307.54,111.60 308.20,111.93 308.53,112.26 308.86,113.26 308.86,113.92 308.53,114.91 307.87,115.57 306.88,115.90 305.88,115.90 304.89,115.57 304.56,115.24 304.23,114.58M311.50,108.96 315.14,108.96 313.15,111.60 314.15,111.60 314.81,111.93 315.14,112.26 315.47,113.26 315.47,113.92 315.14,114.91 314.48,115.57 313.49,115.90 312.49,115.90 311.50,115.57 311.17,115.24 310.84,114.58"/><text class="x" x="257.3" y="115.9" font-size="9.9" textLength="59.2">HD 189733</text>
<line x1="195.2" y1="125.64" x2="251.8" y2="125.64" stroke="#ff00ff" stroke-width="1.9"/>
<path class="h" stroke-width="0.68" d="M258.62,129.14 258.62,122.20 262.92,122.20M258.62,125.50 261.27,125.50M264.57,129.14 264.57,124.51M264.24,122.20 264.57,122.53 264.90,122.20 264.57,121.87 264.24,122.20M270.19,124.84 269.53,124.51 268.54,124.51 267.88,124.84 267.22,125.50 266.88,126.50 270.85,126.50 270.85,125.83 270.52,125.17 270.19,124.84M270.85,128.15 270.19,128.81 269.53,129.14 268.54,129.14 267.88,128.81 267.22,128.15 266.88,127.16 266.88,126.50M273.16,129.14 273.16,122.20M279.44,129.14 279.44,122.20M279.44,128.15 278.78,128.81 278.12,129.14 277.13,129.14 276.47,128.81 275.81,128.15 275.48,127.16 275.48,126.50 275.81,125.50 276.47,124.84 277.13,124.51 278.12,124.51 278.78,124.84 279.44,125.50M287.38,129.14 287.38,122.20M287.38,128.15 288.04,128.81 288.70,129.14 289.69,129.14 290.35,128.81 291.01,128.15 291.34,127.16 291.34,126.50 291.01,125.50 290.35,124.84 289.69,124.51 288.70,124.51 288.04,124.84 287.38,125.50M293.66,129.14 293.66,124.51M293.66,126.50 293.99,125.50 294.65,124.84 295.31,124.51 296.30,124.51M297.95,128.81 298.28,129.14 298.61,128.81 298.28,128.48 297.95,128.81M310.18,129.14 310.18,122.20M310.18,128.15 309.52,128.81 308.86,129.14 307.87,129.14 307.21,128.81 306.54,128.15 306.21,127.16 306.21,126.50 306.54,125.50 307.21,124.84 307.87,124.51 308.86,124.51 309.52,124.84 310.18,125.50M312.82,129.14 312.82,122.20 317.12,122.20M312.82,125.50 315.47,125.50M319.76,129.14 323.07,122.20 318.44,122.20M325.38,126.17 331.33,126.17M337.61,129.14 337.61,122.20M337.61,128.15 336.95,128.81 336.29,129.14 335.30,129.14 334.64,128.81 333.98,128.15 333.65,127.16 333.65,126.50 333.98,125.50 334.64,124.84 335.30,124.51 336.29,124.51 336.95,124.84 337.61,125.50M340.26,129.14 340.26,122.20M340.26,126.83 344.88,122.20M344.88,129.14 341.91,125.17M351.49,129.14 346.87,129.14 350.17,125.83 350.83,124.84 351.16,124.18 351.16,123.52 350.83,122.86 350.50,122.53 349.84,122.20 348.52,122.20 347.86,122.53 347.53,122.86 347.20,123.52 347.20,123.85"/><text class="x" x="257.3" y="129.1" font-size="9.9" textLength="95.2">Field br. dF7−dK2</text>
<line x1="195.2" y1="138.88" x2="251.8" y2="138.88" stroke="#ffa500" stroke-width="1.9"/>
<path class="h" stroke-width="0.68" d="M258.62,142.38 258.62,135.44 262.92,135.44M258.62,138.74 261.27,138.74M264.57,142.38 264.57,137.75M264.24,135.44 264.57,135.77 264.90,135.44 264.57,135.11 264.24,135.44M270.19,138.08 269.53,137.75 268.54,137.75 267.88,138.08 267.22,138.74 266.88,139.74 270.85,139.74 270.85,139.07 270.52,138.41 270.19,138.08M270.85,141.39 270.19,142.05 269.53,142.38 268.54,142.38 267.88,142.05 267.22,141.39 266.88,140.40 266.88,139.74M273.16,142.38 273.16,135.44M279.44,142.38 279.44,135.44M279.44,141.39 278.78,142.05 278.12,142.38 277.13,142.38 276.47,142.05 275.81,141.39 275.48,140.40 275.48,139.74 275.81,138.74 276.47,138.08 277.13,137.75 278.12,137.75 278.78,138.08 279.44,138.74M291.01,142.38 291.01,135.44M291.01,141.39 290.35,142.05 289.69,142.38 288.70,142.38 288.04,142.05 287.38,141.39 287.05,140.40 287.05,139.74 287.38,138.74 288.04,138.08 288.70,137.75 289.69,137.75 290.35,138.08 291.01,138.74M293.66,142.38 293.66,135.44 297.95,135.44M293.66,138.74 296.30,138.74M300.60,142.38 303.90,135.44 299.27,135.44M306.21,139.41 312.16,139.41M318.44,142.38 318.44,135.44M318.44,141.39 317.78,142.05 317.12,142.38 316.13,142.38 315.47,142.05 314.81,141.39 314.48,140.40 314.48,139.74 314.81,138.74 315.47,138.08 316.13,137.75 317.12,137.75 317.78,138.08 318.44,138.74M321.09,142.38 321.09,135.44M321.09,140.07 325.71,135.44M325.71,142.38 322.74,138.41M332.32,142.38 327.70,142.38 331.00,139.07 331.66,138.08 331.99,137.42 331.99,136.76 331.66,136.10 331.33,135.77 330.67,135.44 329.35,135.44 328.69,135.77 328.36,136.10 328.03,136.76 328.03,137.09"/><text class="x" x="257.3" y="142.4" font-size="9.9" textLength="76.0">Field dF7−dK2</text>
<rect x="485.9" y="75.0" width="297.6" height="288.3" fill="none" stroke="#000" stroke-width="1.1"/>
<line x1="496.25" y1="363.3" x2="773.15" y2="363.3" stroke="#000" stroke-width="1.2"/>
<line x1="496.25" y1="75.0" x2="773.15" y2="75.0" stroke="#000" stroke-width="1.2"/>
<line x1="485.9" y1="353.65" x2="485.9" y2="84.85" stroke="#000" stroke-width="1.2"/>
<line x1="783.5" y1="353.65" x2="783.5" y2="84.85" stroke="#000" stroke-width="1.2"/>
<line x1="496.90" y1="363.3" x2="496.90" y2="353.7" stroke="#000" stroke-width="1.3"/>
<line x1="496.90" y1="75.0" x2="496.90" y2="84.6" stroke="#000" stroke-width="1.3"/>
<line x1="524.46" y1="363.3" x2="524.46" y2="359.0" stroke="#000" stroke-width="1.3"/>
<line x1="524.46" y1="75.0" x2="524.46" y2="79.3" stroke="#000" stroke-width="1.3"/>
<line x1="552.02" y1="363.3" x2="552.02" y2="353.7" stroke="#000" stroke-width="1.3"/>
<line x1="552.02" y1="75.0" x2="552.02" y2="84.6" stroke="#000" stroke-width="1.3"/>
<line x1="579.58" y1="363.3" x2="579.58" y2="359.0" stroke="#000" stroke-width="1.3"/>
<line x1="579.58" y1="75.0" x2="579.58" y2="79.3" stroke="#000" stroke-width="1.3"/>
<line x1="607.14" y1="363.3" x2="607.14" y2="353.7" stroke="#000" stroke-width="1.3"/>
<line x1="607.14" y1="75.0" x2="607.14" y2="84.6" stroke="#000" stroke-width="1.3"/>
<line x1="634.70" y1="363.3" x2="634.70" y2="359.0" stroke="#000" stroke-width="1.3"/>
<line x1="634.70" y1="75.0" x2="634.70" y2="79.3" stroke="#000" stroke-width="1.3"/>
<line x1="662.26" y1="363.3" x2="662.26" y2="353.7" stroke="#000" stroke-width="1.3"/>
<line x1="662.26" y1="75.0" x2="662.26" y2="84.6" stroke="#000" stroke-width="1.3"/>
<line x1="689.82" y1="363.3" x2="689.82" y2="359.0" stroke="#000" stroke-width="1.3"/>
<line x1="689.82" y1="75.0" x2="689.82" y2="79.3" stroke="#000" stroke-width="1.3"/>
<line x1="717.38" y1="363.3" x2="717.38" y2="353.7" stroke="#000" stroke-width="1.3"/>
<line x1="717.38" y1="75.0" x2="717.38" y2="84.6" stroke="#000" stroke-width="1.3"/>
<line x1="744.94" y1="363.3" x2="744.94" y2="359.0" stroke="#000" stroke-width="1.3"/>
<line x1="744.94" y1="75.0" x2="744.94" y2="79.3" stroke="#000" stroke-width="1.3"/>
<line x1="772.50" y1="363.3" x2="772.50" y2="353.7" stroke="#000" stroke-width="1.3"/>
<line x1="772.50" y1="75.0" x2="772.50" y2="84.6" stroke="#000" stroke-width="1.3"/>
<line x1="485.9" y1="353.00" x2="495.5" y2="353.00" stroke="#000" stroke-width="1.3"/>
<line x1="783.5" y1="353.00" x2="773.9" y2="353.00" stroke="#000" stroke-width="1.3"/>
<line x1="485.9" y1="299.50" x2="495.5" y2="299.50" stroke="#000" stroke-width="1.3"/>
<line x1="783.5" y1="299.50" x2="773.9" y2="299.50" stroke="#000" stroke-width="1.3"/>
<line x1="485.9" y1="246.00" x2="495.5" y2="246.00" stroke="#000" stroke-width="1.3"/>
<line x1="783.5" y1="246.00" x2="773.9" y2="246.00" stroke="#000" stroke-width="1.3"/>
<line x1="485.9" y1="192.50" x2="495.5" y2="192.50" stroke="#000" stroke-width="1.3"/>
<line x1="783.5" y1="192.50" x2="773.9" y2="192.50" stroke="#000" stroke-width="1.3"/>
<line x1="485.9" y1="139.00" x2="495.5" y2="139.00" stroke="#000" stroke-width="1.3"/>
<line x1="783.5" y1="139.00" x2="773.9" y2="139.00" stroke="#000" stroke-width="1.3"/>
<line x1="485.9" y1="85.50" x2="495.5" y2="85.50" stroke="#000" stroke-width="1.3"/>
<line x1="783.5" y1="85.50" x2="773.9" y2="85.50" stroke="#000" stroke-width="1.3"/>
<path class="h" stroke-width="0.9" d="M487.22,394.66 488.14,396.04 489.52,396.50 490.45,396.50 491.83,396.04 492.75,394.66 493.21,392.35 493.21,390.97 492.75,388.66 491.83,387.28 490.45,386.82 489.52,386.82 488.14,387.28 487.22,388.66 486.76,390.97 486.76,392.35 487.22,394.66M496.44,396.04 496.90,396.50 497.36,396.04 496.90,395.58 496.44,396.04M501.05,394.66 501.97,396.04 503.35,396.50 504.28,396.50 505.66,396.04 506.58,394.66 507.04,392.35 507.04,390.97 506.58,388.66 505.66,387.28 504.28,386.82 503.35,386.82 501.97,387.28 501.05,388.66 500.59,390.97 500.59,392.35 501.05,394.66"/><text class="x" x="485.4" y="396.5" font-size="13.8" textLength="23.1">0.0</text>
<g transform="translate(463.70,353.00) rotate(-90)"><path class="h" stroke-width="0.9" d="M-9.68,-1.84 -8.76,-0.46 -7.38,0.00 -6.45,0.00 -5.07,-0.46 -4.15,-1.84 -3.69,-4.15 -3.69,-5.53 -4.15,-7.84 -5.07,-9.22 -6.45,-9.68 -7.38,-9.68 -8.76,-9.22 -9.68,-7.84 -10.14,-5.53 -10.14,-4.15 -9.68,-1.84M-0.46,-0.46 0.00,0.00 0.46,-0.46 0.00,-0.92 -0.46,-0.46M4.15,-1.84 5.07,-0.46 6.45,0.00 7.38,0.00 8.76,-0.46 9.68,-1.84 10.14,-4.15 10.14,-5.53 9.68,-7.84 8.76,-9.22 7.38,-9.68 6.45,-9.68 5.07,-9.22 4.15,-7.84 3.69,-5.53 3.69,-4.15 4.15,-1.84"/><text class="x" x="-11.5" y="0" font-size="13.8" textLength="23.1">0.0</text></g>
<path class="h" stroke-width="0.9" d="M542.34,394.66 543.26,396.04 544.64,396.50 545.57,396.50 546.95,396.04 547.87,394.66 548.33,392.35 548.33,390.97 547.87,388.66 546.95,387.28 545.57,386.82 544.64,386.82 543.26,387.28 542.34,388.66 541.88,390.97 541.88,392.35 542.34,394.66M551.56,396.04 552.02,396.50 552.48,396.04 552.02,395.58 551.56,396.04M562.16,396.50 555.71,396.50 560.32,391.89 561.24,390.51 561.70,389.58 561.70,388.66 561.24,387.74 560.78,387.28 559.86,386.82 558.01,386.82 557.09,387.28 556.63,387.74 556.17,388.66 556.17,389.12"/><text class="x" x="540.5" y="396.5" font-size="13.8" textLength="23.1">0.2</text>
<g transform="translate(463.70,299.50) rotate(-90)"><path class="h" stroke-width="0.9" d="M-9.68,-1.84 -8.76,-0.46 -7.38,0.00 -6.45,0.00 -5.07,-0.46 -4.15,-1.84 -3.69,-4.15 -3.69,-5.53 -4.15,-7.84 -5.07,-9.22 -6.45,-9.68 -7.38,-9.68 -8.76,-9.22 -9.68,-7.84 -10.14,-5.53 -10.14,-4.15 -9.68,-1.84M-0.46,-0.46 0.00,0.00 0.46,-0.46 0.00,-0.92 -0.46,-0.46M10.14,0.00 3.69,0.00 8.30,-4.61 9.22,-5.99 9.68,-6.92 9.68,-7.84 9.22,-8.76 8.76,-9.22 7.84,-9.68 5.99,-9.68 5.07,-9.22 4.61,-8.76 4.15,-7.84 4.15,-7.38"/><text class="x" x="-11.5" y="0" font-size="13.8" textLength="23.1">0.2</text></g>
<path class="h" stroke-width="0.9" d="M597.46,394.66 598.38,396.04 599.76,396.50 600.69,396.50 602.07,396.04 602.99,394.66 603.45,392.35 603.45,390.97 602.99,388.66 602.07,387.28 600.69,386.82 599.76,386.82 598.38,387.28 597.46,388.66 597.00,390.97 597.00,392.35 597.46,394.66M606.68,396.04 607.14,396.50 607.60,396.04 607.14,395.58 606.68,396.04M615.44,396.50 615.44,386.82 610.83,393.27 617.74,393.27"/><text class="x" x="595.6" y="396.5" font-size="13.8" textLength="23.1">0.4</text>
<g transform="translate(463.70,246.00) rotate(-90)"><path class="h" stroke-width="0.9" d="M-9.68,-1.84 -8.76,-0.46 -7.38,0.00 -6.45,0.00 -5.07,-0.46 -4.15,-1.84 -3.69,-4.15 -3.69,-5.53 -4.15,-7.84 -5.07,-9.22 -6.45,-9.68 -7.38,-9.68 -8.76,-9.22 -9.68,-7.84 -10.14,-5.53 -10.14,-4.15 -9.68,-1.84M-0.46,-0.46 0.00,0.00 0.46,-0.46 0.00,-0.92 -0.46,-0.46M8.30,0.00 8.30,-9.68 3.69,-3.23 10.60,-3.23"/><text class="x" x="-11.5" y="0" font-size="13.8" textLength="23.1">0.4</text></g>
<path class="h" stroke-width="0.9" d="M652.58,394.66 653.50,396.04 654.88,396.50 655.81,396.50 657.19,396.04 658.11,394.66 658.57,392.35 658.57,390.97 658.11,388.66 657.19,387.28 655.81,386.82 654.88,386.82 653.50,387.28 652.58,388.66 652.12,390.97 652.12,392.35 652.58,394.66M661.80,396.04 662.26,396.50 662.72,396.04 662.26,395.58 661.80,396.04M666.41,393.27 666.87,391.89 667.79,390.97 669.18,390.51 669.64,390.51 671.02,390.97 671.94,391.89 672.40,393.27 672.40,393.73 671.94,395.12 671.02,396.04 669.64,396.50 669.18,396.50 667.79,396.04 666.87,395.12 666.41,393.27 666.41,390.97 666.87,388.66 667.79,387.28 669.18,386.82 670.10,386.82 671.48,387.28 671.94,388.20"/><text class="x" x="650.7" y="396.5" font-size="13.8" textLength="23.1">0.6</text>
<g transform="translate(463.70,192.50) rotate(-90)"><path class="h" stroke-width="0.9" d="M-9.68,-1.84 -8.76,-0.46 -7.38,0.00 -6.45,0.00 -5.07,-0.46 -4.15,-1.84 -3.69,-4.15 -3.69,-5.53 -4.15,-7.84 -5.07,-9.22 -6.45,-9.68 -7.38,-9.68 -8.76,-9.22 -9.68,-7.84 -10.14,-5.53 -10.14,-4.15 -9.68,-1.84M-0.46,-0.46 0.00,0.00 0.46,-0.46 0.00,-0.92 -0.46,-0.46M4.15,-3.23 4.61,-4.61 5.53,-5.53 6.92,-5.99 7.38,-5.99 8.76,-5.53 9.68,-4.61 10.14,-3.23 10.14,-2.77 9.68,-1.38 8.76,-0.46 7.38,0.00 6.92,0.00 5.53,-0.46 4.61,-1.38 4.15,-3.23 4.15,-5.53 4.61,-7.84 5.53,-9.22 6.92,-9.68 7.84,-9.68 9.22,-9.22 9.68,-8.30"/><text class="x" x="-11.5" y="0" font-size="13.8" textLength="23.1">0.6</text></g>
<path class="h" stroke-width="0.9" d="M707.70,394.66 708.62,396.04 710.00,396.50 710.93,396.50 712.31,396.04 713.23,394.66 713.69,392.35 713.69,390.97 713.23,388.66 712.31,387.28 710.93,386.82 710.00,386.82 708.62,387.28 707.70,388.66 707.24,390.97 707.24,392.35 707.70,394.66M716.92,396.04 717.38,396.50 717.84,396.04 717.38,395.58 716.92,396.04M721.07,393.27 721.07,394.66 721.53,395.58 721.99,396.04 723.37,396.50 725.22,396.50 726.60,396.04 727.06,395.58 727.52,394.66 727.52,393.27 727.06,392.35 726.14,391.43 724.76,390.97 722.91,390.51 721.99,390.05 721.53,389.12 721.53,388.20 721.99,387.28 723.37,386.82 725.22,386.82 726.60,387.28 727.06,388.20 727.06,389.12 726.60,390.05 725.68,390.51 723.83,390.97 722.45,391.43 721.53,392.35 721.07,393.27"/><text class="x" x="705.9" y="396.5" font-size="13.8" textLength="23.1">0.8</text>
<g transform="translate(463.70,139.00) rotate(-90)"><path class="h" stroke-width="0.9" d="M-9.68,-1.84 -8.76,-0.46 -7.38,0.00 -6.45,0.00 -5.07,-0.46 -4.15,-1.84 -3.69,-4.15 -3.69,-5.53 -4.15,-7.84 -5.07,-9.22 -6.45,-9.68 -7.38,-9.68 -8.76,-9.22 -9.68,-7.84 -10.14,-5.53 -10.14,-4.15 -9.68,-1.84M-0.46,-0.46 0.00,0.00 0.46,-0.46 0.00,-0.92 -0.46,-0.46M3.69,-3.23 3.69,-1.84 4.15,-0.92 4.61,-0.46 5.99,0.00 7.84,0.00 9.22,-0.46 9.68,-0.92 10.14,-1.84 10.14,-3.23 9.68,-4.15 8.76,-5.07 7.38,-5.53 5.53,-5.99 4.61,-6.45 4.15,-7.38 4.15,-8.30 4.61,-9.22 5.99,-9.68 7.84,-9.68 9.22,-9.22 9.68,-8.30 9.68,-7.38 9.22,-6.45 8.30,-5.99 6.45,-5.53 5.07,-5.07 4.15,-4.15 3.69,-3.23"/><text class="x" x="-11.5" y="0" font-size="13.8" textLength="23.1">0.8</text></g>
<path class="h" stroke-width="0.9" d="M766.05,396.50 766.05,386.82 764.66,388.20 763.74,388.66M772.04,396.04 772.50,396.50 772.96,396.04 772.50,395.58 772.04,396.04M776.65,394.66 777.57,396.04 778.95,396.50 779.88,396.50 781.26,396.04 782.18,394.66 782.64,392.35 782.64,390.97 782.18,388.66 781.26,387.28 779.88,386.82 778.95,386.82 777.57,387.28 776.65,388.66 776.19,390.97 776.19,392.35 776.65,394.66"/><text class="x" x="761.0" y="396.5" font-size="13.8" textLength="23.1">1.0</text>
<g transform="translate(463.70,85.50) rotate(-90)"><path class="h" stroke-width="0.9" d="M-6.45,0.00 -6.45,-9.68 -7.84,-8.30 -8.76,-7.84M-0.46,-0.46 0.00,0.00 0.46,-0.46 0.00,-0.92 -0.46,-0.46M4.15,-1.84 5.07,-0.46 6.45,0.00 7.38,0.00 8.76,-0.46 9.68,-1.84 10.14,-4.15 10.14,-5.53 9.68,-7.84 8.76,-9.22 7.38,-9.68 6.45,-9.68 5.07,-9.22 4.15,-7.84 3.69,-5.53 3.69,-4.15 4.15,-1.84"/><text class="x" x="-11.5" y="0" font-size="13.8" textLength="23.1">1.0</text></g>
<g transform="translate(427.50,219.20) rotate(-90)"><path class="h" stroke-width="0.9" d="M-27.20,0.00 -27.20,-9.68 -21.21,-9.68M-27.20,-5.07 -23.51,-5.07M-18.90,0.00 -18.90,-6.45M-18.90,-3.69 -18.44,-5.07 -17.52,-5.99 -16.60,-6.45 -15.21,-6.45M-7.84,0.00 -7.84,-6.45M-7.84,-1.38 -8.76,-0.46 -9.68,0.00 -11.06,0.00 -11.99,-0.46 -12.91,-1.38 -13.37,-2.77 -13.37,-3.69 -12.91,-5.07 -11.99,-5.99 -11.06,-6.45 -9.68,-6.45 -8.76,-5.99 -7.84,-5.07M0.92,-1.38 -0.00,-0.46 -0.92,0.00 -2.31,0.00 -3.23,-0.46 -4.15,-1.38 -4.61,-2.77 -4.61,-3.69 -4.15,-5.07 -3.23,-5.99 -2.31,-6.45 -0.92,-6.45 -0.00,-5.99 0.92,-5.07M6.91,0.00 5.99,0.00 5.07,-0.46 4.61,-1.84 4.61,-9.68M3.23,-6.45 6.45,-6.45M9.68,0.00 9.68,-6.45M9.22,-9.68 9.68,-9.22 10.14,-9.68 9.68,-10.14 9.22,-9.68M13.37,-1.38 14.29,-0.46 15.21,0.00 16.60,0.00 17.52,-0.46 18.44,-1.38 18.90,-2.77 18.90,-3.69 18.44,-5.07 17.52,-5.99 16.60,-6.45 15.21,-6.45 14.29,-5.99 13.37,-5.07 12.91,-3.69 12.91,-2.77 13.37,-1.38M22.13,0.00 22.13,-6.45M27.20,0.00 27.20,-4.61 26.74,-5.99 25.82,-6.45 24.43,-6.45 23.51,-5.99 22.13,-4.61"/><text class="x" x="-29.0" y="0" font-size="13.8" textLength="58.1">Fraction</text></g>
<path class="h" stroke-width="0.9" d="M502.38,433.20 496.84,433.20 496.84,423.52"/><text class="x" x="495.0" y="433.2" font-size="13.8" textLength="7.8">L</text>
<path class="h" stroke-width="0.9" d="M512.20,436.50 508.35,431.60M508.35,436.50 512.20,431.60"/><text class="x" x="507.3" y="436.5" font-size="10.5" textLength="5.9">x</text>
<path class="h" stroke-width="0.9" d="M521.42,426.35 524.19,432.80 526.95,426.35M534.79,432.80 534.79,426.35M534.79,431.42 533.87,432.34 532.95,432.80 531.56,432.80 530.64,432.34 529.72,431.42 529.26,430.03 529.26,429.11 529.72,427.73 530.64,426.81 531.56,426.35 532.95,426.35 533.87,426.81 534.79,427.73M538.48,432.80 538.48,426.35M538.48,429.11 538.94,427.73 539.86,426.81 540.78,426.35 542.17,426.35M544.47,432.80 544.47,426.35M544.01,423.12 544.47,423.58 544.93,423.12 544.47,422.66 544.01,423.12M553.23,432.80 553.23,426.35M553.23,431.42 552.31,432.34 551.39,432.80 550.00,432.80 549.08,432.34 548.16,431.42 547.70,430.03 547.70,429.11 548.16,427.73 549.08,426.81 550.00,426.35 551.39,426.35 552.31,426.81 553.23,427.73M556.92,432.80 556.92,423.12M556.92,431.42 557.84,432.34 558.76,432.80 560.15,432.80 561.07,432.34 561.99,431.42 562.45,430.03 562.45,429.11 561.99,427.73 561.07,426.81 560.15,426.35 558.76,426.35 557.84,426.81 556.92,427.73M565.68,432.80 565.68,426.35M565.22,423.12 565.68,423.58 566.14,423.12 565.68,422.66 565.22,423.12M569.37,432.80 569.37,423.12M573.05,432.80 573.05,426.35M572.59,423.12 573.05,423.58 573.51,423.12 573.05,422.66 572.59,423.12M579.51,432.80 578.59,432.80 577.66,432.34 577.20,430.96 577.20,423.12M575.82,426.35 579.05,426.35M581.35,426.35 584.12,432.80 586.88,426.35M583.66,433.72 585.50,429.57M580.89,436.03 581.35,436.03 582.27,435.57 583.20,434.64 584.12,432.80M602.10,432.80 602.10,426.35M602.10,431.42 601.18,432.34 600.25,432.80 598.87,432.80 597.95,432.34 597.03,431.42 596.57,430.03 596.57,429.11 597.03,427.73 597.95,426.81 598.87,426.35 600.25,426.35 601.18,426.81 602.10,427.73M605.79,432.80 605.79,426.35M615.93,432.80 615.93,428.19 615.47,426.81 614.54,426.35 613.16,426.35 612.24,426.81 610.86,428.19 610.39,426.81 609.47,426.35 608.09,426.35 607.17,426.81 605.79,428.19M610.86,432.80 610.86,428.19M619.62,436.03 619.62,426.35M619.62,431.42 620.54,432.34 621.46,432.80 622.84,432.80 623.76,432.34 624.69,431.42 625.15,430.03 625.15,429.11 624.69,427.73 623.76,426.81 622.84,426.35 621.46,426.35 620.54,426.81 619.62,427.73M628.37,432.80 628.37,423.12M632.06,432.80 632.06,426.35M631.60,423.12 632.06,423.58 632.52,423.12 632.06,422.66 631.60,423.12M638.52,432.80 637.59,432.80 636.67,432.34 636.21,430.96 636.21,423.12M634.83,426.35 638.06,426.35M646.35,432.80 646.35,426.35M646.35,430.96 644.97,432.34 644.05,432.80 642.67,432.80 641.74,432.34 641.28,430.96 641.28,426.35M655.11,432.80 655.11,423.12M655.11,431.42 654.19,432.34 653.27,432.80 651.89,432.80 650.96,432.34 650.04,431.42 649.58,430.03 649.58,429.11 650.04,427.73 650.96,426.81 651.89,426.35 653.27,426.35 654.19,426.81 655.11,427.73M662.95,426.81 662.03,426.35 660.64,426.35 659.72,426.81 658.80,427.73 658.34,429.11 663.87,429.11 663.87,428.19 663.41,427.27 662.95,426.81M663.87,431.42 662.95,432.34 662.03,432.80 660.64,432.80 659.72,432.34 658.80,431.42 658.34,430.03 658.34,429.11M677.70,436.03 676.78,435.11 675.86,433.72 674.94,431.88 674.47,429.57 674.47,427.73 674.94,425.42 675.86,423.58 676.78,422.20 677.24,421.74M680.93,430.96 681.85,432.34 683.23,432.80 684.16,432.80 685.54,432.34 686.46,430.96 686.92,428.65 686.92,427.27 686.46,424.96 685.54,423.58 684.16,423.12 683.23,423.12 681.85,423.58 680.93,424.96 680.47,427.27 680.47,428.65 680.93,430.96M690.15,432.34 690.61,432.80 691.07,432.34 690.61,431.88 690.15,432.34M697.99,432.80 697.99,423.12 696.60,424.50 695.68,424.96M703.98,428.65 712.28,428.65M721.96,432.80 715.50,432.80 720.11,428.19 721.04,426.81 721.50,425.88 721.50,424.96 721.04,424.04 720.57,423.58 719.65,423.12 717.81,423.12 716.89,423.58 716.43,424.04 715.96,424.96 715.96,425.42M725.18,432.34 725.65,432.80 726.11,432.34 725.65,431.88 725.18,432.34M733.94,432.80 733.94,423.12 729.33,429.57 736.25,429.57M746.39,432.80 746.39,423.12M746.39,430.96 751.00,426.35M751.46,432.80 748.23,429.11M758.38,426.81 757.45,426.35 756.07,426.35 755.15,426.81 754.23,427.73 753.77,429.11 759.30,429.11 759.30,428.19 758.84,427.27 758.38,426.81M759.30,431.42 758.38,432.34 757.45,432.80 756.07,432.80 755.15,432.34 754.23,431.42 753.77,430.03 753.77,429.11M761.14,423.12 764.83,432.80 768.52,423.12M770.36,436.03 771.28,435.11 772.21,433.72 773.13,431.88 773.59,429.57 773.59,427.73 773.13,425.42 772.21,423.58 771.28,422.20 770.82,421.74"/><text class="x" x="520.5" y="432.8" font-size="13.8" textLength="254.9">variability amplitude (0.1−2.4 keV)</text>
<g fill="none" stroke="#0000ff" stroke-width="2" stroke-linejoin="round">
<path stroke-opacity="0.208" d="M496.3,96.0 L496.8,98.4 L498.7,100.0 L500.7,101.7 L502.6,103.5 L504.5,105.3 L506.3,107.1 L508.0,108.9 L509.0,111.3 L510.1,113.6 L511.2,115.9 L512.6,118.0 L513.9,120.2 L515.2,122.5 L516.3,124.8 L517.5,127.1 L518.7,129.4 L519.7,131.7 L520.5,134.2 L521.2,136.7 L522.4,138.9 L524.1,140.9 L525.7,142.9 L527.3,144.9 L528.7,147.2 L530.0,149.4 L531.3,151.6 L532.5,153.8 L533.8,156.1 L535.0,158.3 L536.3,160.6 L537.6,162.8 L538.9,165.0 L539.8,167.3 L540.7,169.8 L541.6,172.2 L542.5,174.6 L543.3,177.0 L544.2,179.4 L545.1,181.9 L546.1,184.2 L547.3,186.5 L548.5,188.8 L549.5,191.2 L550.5,193.5 L551.6,195.9 L552.4,198.3 L553.1,200.8 L553.8,203.3 L554.5,205.7 L555.1,208.3 L555.6,210.8 L556.2,213.3 L557.1,215.7 L558.1,218.1 L559.1,220.5 L560.0,222.9 L560.9,225.3 L561.8,227.8 L562.6,230.2 L563.5,232.6 L564.3,235.1 L565.2,237.5 L566.7,239.6 L568.4,241.6 L570.0,243.6 L571.7,245.5 L573.4,247.5 L575.1,249.4 L576.3,251.6 L577.1,254.0 L578.0,256.4 L578.8,258.8 L579.3,261.3 L579.9,263.9 L580.4,266.4 L580.9,268.9 L581.9,271.3 L582.9,273.7 L583.9,276.1 L584.9,278.4 L586.0,280.8 L587.1,283.1 L588.1,285.5 L589.2,287.9 L590.2,290.2 L591.3,292.6 L592.4,294.9 L593.5,297.2 L594.8,299.5 L596.1,301.7 L597.4,304.0 L598.7,306.2 L600.0,308.4 L601.9,310.1 L604.0,311.6 L605.7,313.5 L607.3,315.5 L608.8,317.6 L610.4,319.7 L612.1,321.5 L614.1,323.1 L616.1,324.8 L617.7,326.8 L619.0,329.0 L619.9,331.4 L620.8,333.9 L622.0,336.0 L624.4,337.0 L627.0,337.4 L629.5,337.8 L631.7,339.1 L634.0,340.4 L636.5,340.8 L639.0,341.2 L641.6,341.8 L644.0,342.6 L646.5,343.4 L649.0,344.1 L651.5,344.2 L654.1,344.2 L656.7,344.3 L659.3,344.3 L661.9,344.4 L664.4,344.4 L666.7,345.4 L669.1,346.3 L671.6,347.0 L674.0,347.8 L676.3,349.1 L678.5,350.4 L681.0,351.1 L683.4,351.8 L686.0,351.9 L688.6,352.0 L691.2,352.1 L693.8,352.1 L696.4,352.2 L698.9,352.2"/>
<path stroke-opacity="0.191" d="M496.3,98.9 L497.8,100.6 L499.8,102.4 L501.8,104.2 L503.7,106.0 L505.5,107.7 L507.2,109.6 L508.2,111.9 L509.2,114.2 L510.3,116.4 L511.6,118.5 L513.0,120.7 L514.3,122.9 L515.4,125.2 L516.6,127.5 L517.7,129.8 L518.8,132.2 L519.6,134.7 L520.4,137.1 L521.6,139.4 L523.2,141.4 L524.9,143.4 L526.5,145.5 L527.9,147.7 L529.2,149.9 L530.5,152.1 L531.7,154.3 L532.9,156.5 L534.2,158.8 L535.4,161.0 L536.7,163.2 L538.0,165.4 L539.0,167.7 L539.9,170.1 L540.8,172.5 L541.6,174.9 L542.5,177.3 L543.4,179.8 L544.3,182.2 L545.3,184.6 L546.5,186.9 L547.7,189.2 L548.8,191.5 L549.8,193.8 L550.8,196.2 L551.7,198.6 L552.4,201.0 L553.1,203.4 L553.9,205.9 L554.5,208.4 L555.1,210.9 L555.7,213.5 L556.6,215.9 L557.6,218.3 L558.6,220.7 L559.5,223.1 L560.4,225.5 L561.3,227.9 L562.2,230.4 L563.1,232.8 L564.0,235.3 L564.8,237.8 L566.4,239.8 L568.0,241.8 L569.6,243.9 L571.3,245.8 L573.0,247.8 L574.6,249.7 L575.8,251.8 L576.6,254.2 L577.4,256.6 L578.2,259.0 L578.8,261.5 L579.3,264.0 L579.9,266.5 L580.5,269.0 L581.5,271.4 L582.6,273.8 L583.6,276.2 L584.7,278.6 L585.8,280.9 L586.8,283.3 L587.9,285.6 L588.9,288.0 L590.0,290.3 L591.1,292.7 L592.2,295.0 L593.3,297.3 L594.6,299.6 L595.9,301.8 L597.2,304.1 L598.5,306.3 L599.8,308.6 L601.7,310.2 L603.8,311.7 L605.6,313.6 L607.1,315.7 L608.6,317.8 L610.2,319.8 L611.9,321.6 L613.9,323.3 L615.9,324.9 L617.5,326.9 L618.8,329.2 L619.7,331.6 L620.6,334.0 L621.8,336.2 L624.3,337.2 L626.8,337.6 L629.4,338.0 L631.6,339.4 L633.9,340.7 L636.4,341.1 L639.0,341.5 L641.5,342.1 L644.0,342.9 L646.4,343.8 L648.9,344.5 L651.5,344.5 L654.1,344.6 L656.7,344.6 L659.2,344.7 L661.8,344.7 L664.3,344.8 L666.6,345.8 L669.0,346.6 L671.5,347.3 L673.9,348.1 L676.2,349.4 L678.4,350.7 L680.9,351.4 L683.4,352.0 L686.0,352.1 L688.6,352.2 L691.2,352.3 L693.8,352.3 L696.4,352.4"/>
<path stroke-opacity="0.174" d="M496.3,100.3 L496.9,101.2 L499.0,103.0 L501.0,104.8 L502.9,106.7 L504.7,108.4 L506.3,110.2 L507.3,112.5 L508.3,114.7 L509.4,116.9 L510.7,119.0 L512.0,121.2 L513.3,123.4 L514.5,125.7 L515.6,127.9 L516.8,130.2 L517.9,132.6 L518.7,135.1 L519.5,137.6 L520.7,139.9 L522.4,141.9 L524.0,143.9 L525.7,146.0 L527.1,148.2 L528.4,150.4 L529.7,152.6 L530.9,154.8 L532.1,157.0 L533.3,159.2 L534.6,161.4 L535.9,163.6 L537.2,165.8 L538.2,168.1 L539.0,170.5 L539.9,172.8 L540.8,175.2 L541.7,177.7 L542.6,180.1 L543.5,182.5 L544.5,184.9 L545.7,187.2 L546.9,189.5 L548.0,191.8 L549.1,194.1 L550.1,196.4 L551.0,198.8 L551.7,201.2 L552.5,203.6 L553.2,206.1 L553.9,208.6 L554.5,211.1 L555.1,213.6 L556.0,216.0 L557.1,218.4 L558.1,220.8 L559.0,223.2 L560.0,225.7 L560.9,228.1 L561.8,230.5 L562.7,233.0 L563.6,235.5 L564.4,238.0 L566.0,240.1 L567.6,242.1 L569.2,244.1 L570.9,246.1 L572.5,248.0 L574.2,249.9 L575.3,252.1 L576.1,254.5 L576.9,256.8 L577.7,259.2 L578.2,261.7 L578.8,264.2 L579.4,266.7 L580.0,269.2 L581.1,271.5 L582.2,273.9 L583.3,276.3 L584.4,278.7 L585.5,281.0 L586.6,283.4 L587.6,285.7 L588.7,288.1 L589.8,290.4 L590.9,292.8 L592.0,295.1 L593.1,297.4 L594.4,299.7 L595.7,302.0 L597.0,304.2 L598.3,306.5 L599.6,308.7 L601.5,310.3 L603.7,311.8 L605.4,313.7 L606.9,315.8 L608.5,317.9 L610.0,320.0 L611.8,321.8 L613.8,323.4 L615.7,325.1 L617.3,327.0 L618.6,329.3 L619.6,331.8 L620.5,334.2 L621.7,336.4 L624.1,337.4 L626.7,337.8 L629.3,338.2 L631.6,339.6 L633.8,340.9 L636.3,341.4 L638.9,341.9 L641.4,342.4 L643.9,343.3 L646.4,344.1 L648.9,344.9 L651.5,344.9 L654.0,345.0 L656.6,345.0 L659.2,345.1 L661.7,345.1 L664.3,345.2 L666.6,346.1 L668.9,347.0 L671.4,347.6 L673.8,348.3 L676.1,349.6 L678.3,350.9 L680.8,351.6 L683.4,352.3 L686.0,352.4 L688.6,352.4 L691.2,352.5 L693.8,352.5 L696.4,352.6"/>
<path stroke-opacity="0.154" d="M496.3,102.0 L498.1,103.6 L500.1,105.5 L502.1,107.3 L503.9,109.1 L505.4,110.8 L506.4,113.1 L507.4,115.3 L508.5,117.4 L509.8,119.5 L511.1,121.7 L512.4,123.9 L513.6,126.1 L514.7,128.4 L515.9,130.7 L517.0,133.1 L517.8,135.6 L518.6,138.1 L519.9,140.3 L521.5,142.4 L523.2,144.4 L524.9,146.5 L526.2,148.7 L527.6,150.9 L528.9,153.1 L530.1,155.3 L531.3,157.5 L532.5,159.7 L533.8,161.8 L535.1,164.0 L536.4,166.1 L537.3,168.5 L538.2,170.8 L539.1,173.2 L540.0,175.6 L540.9,178.0 L541.7,180.4 L542.6,182.9 L543.7,185.2 L544.9,187.5 L546.1,189.8 L547.2,192.1 L548.3,194.4 L549.4,196.7 L550.3,199.0 L551.0,201.4 L551.8,203.8 L552.6,206.3 L553.2,208.8 L553.9,211.3 L554.5,213.8 L555.5,216.2 L556.5,218.6 L557.6,221.0 L558.6,223.4 L559.5,225.8 L560.4,228.3 L561.4,230.7 L562.3,233.2 L563.2,235.7 L564.0,238.2 L565.6,240.3 L567.2,242.4 L568.8,244.4 L570.5,246.4 L572.1,248.3 L573.7,250.2 L574.9,252.3 L575.6,254.7 L576.4,257.0 L577.1,259.4 L577.7,261.8 L578.3,264.3 L579.0,266.8 L579.6,269.3 L580.7,271.7 L581.9,274.0 L583.0,276.4 L584.1,278.8 L585.3,281.1 L586.3,283.5 L587.4,285.8 L588.5,288.2 L589.6,290.5 L590.7,292.9 L591.8,295.2 L592.9,297.5 L594.2,299.8 L595.5,302.1 L596.8,304.3 L598.1,306.6 L599.4,308.8 L601.4,310.5 L603.5,312.0 L605.2,313.9 L606.8,316.0 L608.3,318.1 L609.9,320.1 L611.6,321.9 L613.6,323.5 L615.5,325.2 L617.2,327.2 L618.5,329.5 L619.4,331.9 L620.3,334.4 L621.5,336.6 L624.0,337.6 L626.6,338.0 L629.2,338.5 L631.5,339.9 L633.7,341.2 L636.2,341.7 L638.8,342.2 L641.3,342.7 L643.8,343.6 L646.3,344.5 L648.8,345.2 L651.4,345.3 L654.0,345.4 L656.6,345.4 L659.1,345.5 L661.7,345.5 L664.2,345.6 L666.5,346.5 L668.8,347.3 L671.3,347.9 L673.7,348.6 L676.0,349.9 L678.3,351.2 L680.8,351.8 L683.3,352.5 L685.9,352.6 L688.5,352.6 L691.2,352.7 L693.8,352.7"/>
<path stroke-opacity="0.133" d="M496.3,103.4 L497.3,104.3 L499.3,106.2 L501.3,108.0 L503.0,109.7 L504.6,111.5 L505.5,113.7 L506.5,115.9 L507.6,118.0 L508.9,120.0 L510.2,122.2 L511.5,124.3 L512.7,126.6 L513.8,128.8 L515.0,131.1 L516.2,133.5 L517.0,136.0 L517.8,138.6 L519.0,140.8 L520.7,142.9 L522.4,144.9 L524.1,147.0 L525.4,149.2 L526.8,151.4 L528.1,153.5 L529.3,155.7 L530.5,157.9 L531.7,160.1 L532.9,162.2 L534.2,164.4 L535.5,166.5 L536.5,168.8 L537.4,171.2 L538.2,173.5 L539.1,175.9 L540.0,178.3 L540.9,180.8 L541.8,183.2 L542.9,185.6 L544.1,187.9 L545.4,190.1 L546.5,192.4 L547.6,194.7 L548.7,196.9 L549.6,199.3 L550.4,201.6 L551.2,204.0 L552.0,206.5 L552.6,209.0 L553.3,211.5 L554.0,214.0 L555.0,216.4 L556.0,218.8 L557.1,221.2 L558.1,223.6 L559.0,226.0 L560.0,228.4 L560.9,230.9 L561.9,233.4 L562.8,235.9 L563.6,238.4 L565.2,240.5 L566.8,242.6 L568.4,244.7 L570.1,246.7 L571.7,248.6 L573.3,250.5 L574.4,252.6 L575.1,254.9 L575.8,257.2 L576.6,259.6 L577.1,262.0 L577.8,264.5 L578.5,267.0 L579.2,269.4 L580.3,271.8 L581.5,274.2 L582.7,276.5 L583.8,278.9 L585.0,281.2 L586.1,283.6 L587.2,285.9 L588.3,288.3 L589.4,290.6 L590.5,293.0 L591.6,295.3 L592.7,297.6 L594.0,299.9 L595.3,302.2 L596.6,304.5 L597.9,306.7 L599.3,309.0 L601.2,310.6 L603.3,312.1 L605.0,314.0 L606.6,316.1 L608.2,318.2 L609.7,320.3 L611.4,322.1 L613.4,323.7 L615.3,325.3 L617.0,327.3 L618.3,329.6 L619.2,332.1 L620.1,334.6 L621.3,336.8 L623.8,337.8 L626.5,338.3 L629.1,338.7 L631.4,340.1 L633.6,341.5 L636.2,342.0 L638.7,342.5 L641.2,343.1 L643.8,344.0 L646.3,344.9 L648.8,345.6 L651.4,345.7 L653.9,345.7 L656.5,345.8 L659.1,345.9 L661.6,345.9 L664.1,346.0 L666.4,346.9 L668.7,347.7 L671.2,348.2 L673.6,348.9 L675.9,350.2 L678.2,351.4 L680.7,352.1 L683.3,352.7 L685.9,352.8 L688.5,352.9 L691.1,352.9 L693.8,353.0"/>
<path stroke-opacity="0.108" d="M496.3,104.8 L496.4,104.9 L498.5,106.8 L500.4,108.7 L502.2,110.4 L503.7,112.1 L504.7,114.3 L505.6,116.4 L506.7,118.5 L508.0,120.5 L509.3,122.6 L510.6,124.8 L511.7,127.0 L512.9,129.2 L514.1,131.5 L515.3,133.9 L516.1,136.5 L516.9,139.0 L518.2,141.3 L519.8,143.3 L521.5,145.4 L523.2,147.5 L524.6,149.8 L526.0,151.9 L527.2,154.0 L528.4,156.2 L529.7,158.4 L530.9,160.5 L532.1,162.7 L533.4,164.8 L534.7,166.9 L535.7,169.2 L536.5,171.5 L537.4,173.9 L538.3,176.2 L539.2,178.6 L540.1,181.1 L541.0,183.5 L542.1,185.9 L543.3,188.2 L544.6,190.4 L545.7,192.7 L546.9,195.0 L548.0,197.2 L548.9,199.5 L549.7,201.8 L550.5,204.2 L551.3,206.6 L552.0,209.1 L552.7,211.6 L553.4,214.1 L554.4,216.6 L555.5,218.9 L556.6,221.3 L557.6,223.8 L558.6,226.2 L559.5,228.6 L560.5,231.1 L561.5,233.6 L562.4,236.1 L563.2,238.6 L564.8,240.8 L566.4,242.9 L568.0,244.9 L569.6,247.0 L571.3,248.9 L572.8,250.7 L573.9,252.8 L574.6,255.1 L575.3,257.4 L576.0,259.7 L576.5,262.2 L577.3,264.6 L578.0,267.1 L578.7,269.6 L579.9,271.9 L581.2,274.3 L582.3,276.7 L583.5,279.0 L584.7,281.3 L585.8,283.7 L586.9,286.0 L588.0,288.4 L589.1,290.7 L590.3,293.1 L591.4,295.4 L592.5,297.7 L593.8,300.0 L595.1,302.3 L596.4,304.6 L597.8,306.9 L599.1,309.1 L601.0,310.8 L603.1,312.3 L604.9,314.2 L606.4,316.3 L608.0,318.4 L609.5,320.4 L611.3,322.2 L613.2,323.8 L615.2,325.5 L616.8,327.5 L618.1,329.8 L619.1,332.3 L620.0,334.8 L621.2,337.0 L623.7,338.0 L626.3,338.5 L629.0,338.9 L631.3,340.4 L633.6,341.8 L636.1,342.3 L638.6,342.8 L641.2,343.4 L643.7,344.3 L646.2,345.2 L648.7,346.0 L651.3,346.0 L653.9,346.1 L656.5,346.2 L659.0,346.3 L661.6,346.3 L664.0,346.4 L666.3,347.2 L668.6,348.0 L671.1,348.5 L673.5,349.2 L675.8,350.4 L678.1,351.7 L680.7,352.3 L683.2,352.9 L685.8,353.0 L688.5,353.1 L691.1,353.1"/>
<path stroke-opacity="0.077" d="M496.3,106.2 L497.6,107.5 L499.6,109.4 L501.4,111.1 L502.9,112.7 L503.8,114.9 L504.7,117.0 L505.8,119.0 L507.0,121.0 L508.4,123.1 L509.7,125.3 L510.8,127.5 L512.0,129.7 L513.2,132.0 L514.4,134.4 L515.2,137.0 L516.1,139.5 L517.3,141.8 L519.0,143.8 L520.7,145.9 L522.4,148.0 L523.8,150.3 L525.1,152.4 L526.4,154.5 L527.6,156.7 L528.8,158.8 L530.0,161.0 L531.3,163.1 L532.6,165.2 L533.9,167.3 L534.8,169.6 L535.7,171.9 L536.6,174.2 L537.5,176.6 L538.4,179.0 L539.3,181.4 L540.2,183.9 L541.3,186.3 L542.5,188.5 L543.8,190.7 L545.0,193.0 L546.1,195.3 L547.3,197.5 L548.2,199.7 L549.0,202.0 L549.9,204.4 L550.7,206.8 L551.4,209.3 L552.1,211.8 L552.9,214.3 L553.9,216.7 L555.0,219.1 L556.1,221.5 L557.1,223.9 L558.1,226.3 L559.1,228.8 L560.1,231.3 L561.1,233.7 L562.1,236.2 L562.8,238.9 L564.4,241.0 L566.0,243.1 L567.6,245.2 L569.2,247.2 L570.8,249.2 L572.4,251.0 L573.4,253.1 L574.1,255.4 L574.8,257.6 L575.4,259.9 L576.0,262.3 L576.8,264.8 L577.5,267.2 L578.3,269.7 L579.5,272.1 L580.8,274.4 L582.0,276.8 L583.3,279.1 L584.5,281.4 L585.6,283.8 L586.7,286.1 L587.8,288.5 L588.9,290.8 L590.0,293.2 L591.2,295.5 L592.3,297.9 L593.6,300.1 L594.9,302.4 L596.2,304.7 L597.6,307.0 L598.9,309.2 L600.8,310.9 L603.0,312.4 L604.7,314.3 L606.3,316.5 L607.8,318.5 L609.4,320.6 L611.1,322.4 L613.0,323.9 L615.0,325.6 L616.6,327.6 L617.9,329.9 L618.9,332.5 L619.8,334.9 L621.0,337.1 L623.5,338.2 L626.2,338.7 L628.9,339.2 L631.2,340.7 L633.5,342.0 L636.0,342.6 L638.5,343.1 L641.1,343.7 L643.6,344.7 L646.1,345.6 L648.6,346.3 L651.3,346.4 L653.9,346.5 L656.4,346.6 L659.0,346.6 L661.5,346.7 L664.0,346.8 L666.2,347.6 L668.5,348.3 L671.0,348.8 L673.4,349.5 L675.7,350.7 L678.0,351.9 L680.6,352.5 L683.2,353.1 L685.8,353.2 L688.5,353.3 L691.1,353.3"/>
<path stroke-opacity="0.029" d="M496.3,107.7 L496.8,108.2 L498.8,110.1 L500.5,111.7 L502.0,113.4 L502.9,115.5 L503.8,117.6 L504.9,119.5 L506.1,121.5 L507.5,123.6 L508.8,125.7 L509.9,127.9 L511.1,130.1 L512.3,132.4 L513.5,134.8 L514.3,137.4 L515.2,140.0 L516.5,142.3 L518.1,144.3 L519.9,146.4 L521.6,148.5 L523.0,150.8 L524.3,152.9 L525.6,155.0 L526.8,157.2 L528.0,159.3 L529.2,161.4 L530.5,163.5 L531.7,165.6 L533.0,167.7 L534.0,170.0 L534.9,172.2 L535.7,174.5 L536.6,176.9 L537.5,179.3 L538.5,181.8 L539.4,184.2 L540.5,186.6 L541.7,188.9 L543.0,191.1 L544.2,193.3 L545.4,195.5 L546.5,197.7 L547.5,200.0 L548.3,202.2 L549.2,204.6 L550.1,207.0 L550.8,209.5 L551.6,212.0 L552.3,214.5 L553.4,216.9 L554.5,219.3 L555.6,221.7 L556.6,224.1 L557.6,226.5 L558.6,228.9 L559.7,231.4 L560.7,233.9 L561.7,236.4 L562.5,239.1 L564.0,241.3 L565.7,243.4 L567.2,245.5 L568.8,247.5 L570.4,249.4 L571.9,251.3 L573.0,253.3 L573.6,255.6 L574.2,257.8 L574.9,260.1 L575.4,262.5 L576.2,264.9 L577.0,267.4 L577.9,269.9 L579.1,272.2 L580.4,274.6 L581.7,276.9 L583.0,279.2 L584.2,281.5 L585.4,283.9 L586.5,286.2 L587.6,288.6 L588.7,290.9 L589.8,293.3 L591.0,295.6 L592.1,298.0 L593.4,300.2 L594.7,302.6 L596.1,304.9 L597.4,307.1 L598.7,309.4 L600.7,311.0 L602.8,312.6 L604.5,314.5 L606.1,316.6 L607.7,318.7 L609.2,320.7 L610.9,322.5 L612.9,324.1 L614.8,325.7 L616.4,327.7 L617.8,330.1 L618.7,332.6 L619.6,335.1 L620.8,337.3 L623.4,338.4 L626.1,338.9 L628.8,339.4 L631.1,340.9 L633.4,342.3 L635.9,342.9 L638.4,343.4 L641.0,344.0 L643.6,345.0 L646.1,345.9 L648.6,346.7 L651.2,346.8 L653.8,346.9 L656.4,347.0 L658.9,347.0 L661.5,347.1 L663.9,347.1 L666.1,348.0 L668.4,348.7 L670.9,349.1 L673.3,349.7 L675.6,351.0 L678.0,352.2 L680.5,352.8 L683.1,353.3 L685.8,353.5 L688.4,353.5"/>
<path stroke-opacity="0.208" d="M497.4,98.0 L499.5,99.5 L501.5,101.1 L503.4,102.9 L505.3,104.6 L507.1,106.4 L508.8,108.3 L509.9,110.7 L510.9,113.1 L512.1,115.4 L513.4,117.6 L514.8,119.8 L516.0,122.0 L517.2,124.3 L518.3,126.6 L519.5,128.9 L520.6,131.3 L521.3,133.7 L522.1,136.2 L523.3,138.4 L524.9,140.4 L526.5,142.4 L528.1,144.5 L529.5,146.7 L530.8,148.9 L532.1,151.1 L533.3,153.4 L534.6,155.6 L535.8,157.9 L537.1,160.1 L538.4,162.4 L539.7,164.6 L540.7,167.0 L541.5,169.4 L542.4,171.8 L543.3,174.3 L544.2,176.7 L545.0,179.1 L545.9,181.5 L546.9,183.9 L548.1,186.2 L549.3,188.5 L550.3,190.9 L551.3,193.2 L552.3,195.6 L553.1,198.1 L553.8,200.6 L554.5,203.0 L555.2,205.5 L555.8,208.1 L556.3,210.6 L556.9,213.1 L557.7,215.5 L558.7,217.9 L559.7,220.3 L560.6,222.7 L561.5,225.1 L562.4,227.5 L563.3,229.9 L564.1,232.4 L564.9,234.8 L565.7,237.2 L567.3,239.2 L569.0,241.2 L570.6,243.2 L572.3,245.1 L574.0,247.1 L575.7,249.0 L577.0,251.2 L577.8,253.7 L578.7,256.1 L579.5,258.6 L580.1,261.1 L580.6,263.6 L581.1,266.2 L581.6,268.7 L582.7,271.0 L583.7,273.4 L584.6,275.8 L585.6,278.1 L586.7,280.5 L587.8,282.8 L588.8,285.2 L589.9,287.5 L591.0,289.9 L592.0,292.2 L593.1,294.5 L594.2,296.9 L595.5,299.1 L596.8,301.3 L598.0,303.5 L599.3,305.7 L600.6,307.9 L602.6,309.6 L604.7,311.0 L606.3,312.9 L607.9,315.0 L609.4,317.0 L611.0,319.1 L612.8,321.0 L614.8,322.6 L616.7,324.3 L618.4,326.2 L619.6,328.4 L620.5,330.8 L621.4,333.2 L622.7,335.3 L625.0,336.2 L627.4,336.6 L629.9,336.9 L632.0,338.3 L634.2,339.6 L636.7,340.0 L639.3,340.5 L641.8,341.0 L644.2,341.9 L646.6,342.7 L649.1,343.4 L651.6,343.5 L654.2,343.6 L656.8,343.6 L659.4,343.7 L661.9,343.8 L664.5,343.9 L666.9,344.8 L669.3,345.8 L671.8,346.4 L674.2,347.2 L676.4,348.5 L678.6,349.9 L681.1,350.6 L683.6,351.3 L686.1,351.5 L688.7,351.5 L691.2,351.6 L693.8,351.7 L696.4,351.7 L699.0,351.8"/>
<path stroke-opacity="0.191" d="M497.5,98.0 L499.7,99.4 L501.6,101.0 L503.5,102.8 L505.4,104.5 L507.3,106.3 L509.0,108.2 L510.0,110.6 L511.1,113.0 L512.3,115.3 L513.6,117.5 L514.9,119.7 L516.2,121.9 L517.4,124.2 L518.5,126.6 L519.7,128.9 L520.8,131.2 L521.5,133.6 L522.3,136.1 L523.4,138.3 L525.1,140.3 L526.7,142.3 L528.3,144.3 L529.6,146.5 L531.0,148.8 L532.3,151.0 L533.5,153.3 L534.8,155.5 L536.0,157.8 L537.3,160.0 L538.6,162.3 L539.9,164.5 L540.9,166.9 L541.8,169.3 L542.6,171.7 L543.5,174.2 L544.4,176.6 L545.3,179.0 L546.1,181.5 L547.2,183.8 L548.3,186.1 L549.5,188.4 L550.5,190.8 L551.5,193.2 L552.5,195.5 L553.3,198.0 L554.1,200.5 L554.8,203.0 L555.5,205.5 L556.0,208.0 L556.6,210.5 L557.1,213.0 L558.0,215.4 L559.0,217.8 L560.0,220.2 L560.9,222.6 L561.8,225.0 L562.7,227.4 L563.6,229.8 L564.5,232.2 L565.3,234.6 L566.1,237.0 L567.7,239.0 L569.3,241.0 L570.9,243.0 L572.6,244.9 L574.3,246.9 L576.1,248.8 L577.3,251.1 L578.1,253.5 L579.0,256.0 L579.9,258.5 L580.4,261.0 L581.0,263.5 L581.5,266.0 L582.1,268.5 L583.2,270.9 L584.2,273.2 L585.2,275.6 L586.3,277.9 L587.3,280.2 L588.4,282.5 L589.5,284.9 L590.6,287.2 L591.7,289.5 L592.8,291.8 L593.9,294.2 L594.9,296.5 L596.2,298.7 L597.4,300.8 L598.7,303.0 L600.0,305.2 L601.3,307.4 L603.2,309.1 L605.3,310.5 L607.0,312.4 L608.5,314.4 L610.0,316.5 L611.6,318.6 L613.4,320.4 L615.4,322.1 L617.4,323.8 L619.0,325.8 L620.3,327.9 L621.1,330.2 L622.0,332.6 L623.3,334.5 L625.6,335.4 L627.9,335.8 L630.2,336.2 L632.3,337.5 L634.4,338.8 L636.9,339.3 L639.5,339.8 L641.9,340.4 L644.3,341.3 L646.7,342.2 L649.1,342.9 L651.7,343.0 L654.3,343.2 L656.8,343.3 L659.4,343.4 L662.0,343.5 L664.6,343.6 L667.0,344.5 L669.4,345.4 L671.9,346.0 L674.4,346.7 L676.6,348.1 L678.8,349.4 L681.2,350.2 L683.6,350.9 L686.2,351.1 L688.7,351.2 L691.3,351.2 L693.8,351.3 L696.4,351.4"/>
<path stroke-opacity="0.174" d="M497.6,97.9 L499.8,99.3 L501.8,100.9 L503.7,102.6 L505.5,104.4 L507.4,106.2 L509.1,108.1 L510.2,110.5 L511.3,112.8 L512.4,115.2 L513.8,117.4 L515.1,119.6 L516.4,121.8 L517.6,124.2 L518.7,126.5 L519.9,128.8 L520.9,131.1 L521.7,133.6 L522.4,136.0 L523.6,138.2 L525.2,140.2 L526.9,142.2 L528.5,144.2 L529.8,146.4 L531.1,148.6 L532.5,150.9 L533.7,153.1 L534.9,155.4 L536.2,157.7 L537.5,159.9 L538.8,162.2 L540.1,164.4 L541.1,166.8 L542.0,169.2 L542.8,171.7 L543.7,174.1 L544.6,176.5 L545.5,178.9 L546.3,181.4 L547.4,183.7 L548.5,186.0 L549.7,188.3 L550.7,190.7 L551.7,193.1 L552.8,195.5 L553.6,197.9 L554.3,200.4 L555.0,202.9 L555.7,205.4 L556.3,207.9 L556.8,210.4 L557.4,212.9 L558.3,215.3 L559.3,217.7 L560.3,220.1 L561.3,222.4 L562.2,224.9 L563.1,227.2 L564.0,229.6 L564.8,232.0 L565.7,234.4 L566.5,236.8 L568.0,238.8 L569.6,240.7 L571.3,242.7 L572.9,244.7 L574.6,246.6 L576.4,248.6 L577.6,250.9 L578.5,253.4 L579.3,255.9 L580.2,258.4 L580.8,260.9 L581.4,263.4 L582.0,265.9 L582.6,268.4 L583.7,270.7 L584.8,273.0 L585.8,275.3 L586.9,277.6 L588.0,279.9 L589.1,282.3 L590.2,284.6 L591.3,286.9 L592.4,289.2 L593.5,291.5 L594.6,293.8 L595.7,296.1 L596.9,298.3 L598.1,300.4 L599.4,302.6 L600.6,304.7 L601.9,306.9 L603.8,308.5 L605.9,310.0 L607.6,311.8 L609.0,313.8 L610.6,315.9 L612.2,318.0 L614.0,319.9 L616.1,321.6 L618.0,323.4 L619.7,325.3 L620.9,327.3 L621.7,329.6 L622.6,331.9 L624.0,333.8 L626.2,334.6 L628.4,335.0 L630.6,335.4 L632.5,336.7 L634.6,338.1 L637.2,338.6 L639.7,339.2 L642.1,339.8 L644.4,340.7 L646.8,341.7 L649.2,342.5 L651.7,342.6 L654.3,342.7 L656.9,342.9 L659.4,343.0 L662.0,343.2 L664.6,343.3 L667.0,344.2 L669.5,345.1 L672.1,345.6 L674.6,346.3 L676.7,347.7 L678.9,349.0 L681.3,349.8 L683.7,350.6 L686.2,350.7 L688.8,350.8 L691.3,350.9 L693.8,351.0 L696.4,351.1"/>
<path stroke-opacity="0.154" d="M497.7,97.9 L500.0,99.2 L501.9,100.8 L503.8,102.5 L505.7,104.3 L507.6,106.1 L509.3,108.0 L510.4,110.4 L511.4,112.7 L512.6,115.1 L514.0,117.3 L515.3,119.5 L516.6,121.8 L517.7,124.1 L518.9,126.4 L520.1,128.7 L521.1,131.0 L521.9,133.5 L522.6,135.9 L523.8,138.1 L525.4,140.1 L527.0,142.1 L528.6,144.1 L530.0,146.3 L531.3,148.5 L532.6,150.8 L533.9,153.0 L535.1,155.3 L536.4,157.6 L537.7,159.8 L539.0,162.1 L540.3,164.3 L541.3,166.7 L542.2,169.1 L543.0,171.6 L543.9,174.0 L544.8,176.4 L545.7,178.9 L546.5,181.3 L547.6,183.6 L548.7,185.9 L549.9,188.2 L550.9,190.6 L552.0,193.0 L553.0,195.4 L553.8,197.8 L554.5,200.3 L555.3,202.8 L556.0,205.3 L556.5,207.8 L557.1,210.3 L557.6,212.8 L558.5,215.2 L559.6,217.6 L560.6,220.0 L561.6,222.3 L562.5,224.7 L563.4,227.1 L564.3,229.5 L565.2,231.8 L566.1,234.2 L566.8,236.6 L568.4,238.6 L570.0,240.5 L571.6,242.5 L573.3,244.5 L575.0,246.4 L576.7,248.4 L578.0,250.7 L578.8,253.2 L579.7,255.8 L580.5,258.3 L581.1,260.8 L581.8,263.3 L582.4,265.8 L583.1,268.2 L584.2,270.5 L585.3,272.8 L586.4,275.1 L587.5,277.4 L588.6,279.7 L589.7,282.0 L590.8,284.3 L591.9,286.6 L593.1,288.9 L594.2,291.2 L595.3,293.4 L596.4,295.7 L597.6,297.9 L598.8,300.0 L600.0,302.1 L601.3,304.3 L602.6,306.4 L604.5,308.0 L606.5,309.5 L608.2,311.3 L609.6,313.3 L611.2,315.3 L612.8,317.5 L614.6,319.4 L616.7,321.1 L618.7,322.9 L620.3,324.8 L621.5,326.8 L622.3,329.0 L623.2,331.3 L624.6,333.0 L626.7,333.9 L628.8,334.2 L630.9,334.6 L632.8,335.9 L634.9,337.3 L637.4,337.9 L639.8,338.5 L642.2,339.2 L644.5,340.1 L646.9,341.1 L649.3,342.0 L651.8,342.1 L654.3,342.3 L656.9,342.5 L659.5,342.7 L662.1,342.9 L664.7,343.0 L667.1,343.9 L669.6,344.7 L672.2,345.2 L674.7,345.9 L676.9,347.2 L679.0,348.6 L681.4,349.4 L683.8,350.2 L686.3,350.3 L688.8,350.4 L691.3,350.5 L693.8,350.6"/>
<path stroke-opacity="0.133" d="M497.8,97.8 L500.1,99.1 L502.0,100.7 L503.9,102.4 L505.8,104.2 L507.7,106.0 L509.4,107.9 L510.5,110.3 L511.6,112.6 L512.8,115.0 L514.1,117.2 L515.5,119.4 L516.8,121.7 L517.9,124.0 L519.1,126.3 L520.2,128.6 L521.3,130.9 L522.0,133.4 L522.8,135.8 L524.0,138.0 L525.6,140.0 L527.2,142.0 L528.8,144.0 L530.2,146.2 L531.5,148.4 L532.8,150.7 L534.1,152.9 L535.3,155.2 L536.6,157.5 L537.8,159.7 L539.2,162.0 L540.5,164.2 L541.5,166.6 L542.4,169.1 L543.2,171.5 L544.1,173.9 L545.0,176.4 L545.9,178.8 L546.7,181.2 L547.8,183.5 L548.9,185.8 L550.1,188.2 L551.2,190.5 L552.2,192.9 L553.2,195.3 L554.0,197.8 L554.8,200.3 L555.5,202.8 L556.2,205.2 L556.8,207.8 L557.3,210.3 L557.9,212.8 L558.8,215.2 L559.9,217.5 L560.9,219.9 L561.9,222.2 L562.8,224.6 L563.8,227.0 L564.7,229.3 L565.6,231.7 L566.4,234.0 L567.2,236.4 L568.7,238.3 L570.3,240.3 L571.9,242.3 L573.6,244.3 L575.3,246.2 L577.0,248.2 L578.3,250.5 L579.2,253.1 L580.0,255.6 L580.9,258.1 L581.5,260.7 L582.2,263.2 L582.9,265.6 L583.5,268.1 L584.7,270.4 L585.8,272.6 L587.0,274.9 L588.1,277.1 L589.3,279.4 L590.4,281.7 L591.5,284.0 L592.6,286.3 L593.8,288.5 L594.9,290.8 L596.0,293.1 L597.1,295.4 L598.3,297.5 L599.5,299.6 L600.7,301.6 L601.9,303.8 L603.2,305.9 L605.1,307.5 L607.2,309.0 L608.8,310.8 L610.2,312.7 L611.7,314.8 L613.4,316.9 L615.3,318.9 L617.4,320.6 L619.4,322.4 L621.0,324.3 L622.2,326.2 L622.9,328.4 L623.8,330.7 L625.3,332.2 L627.3,333.1 L629.3,333.4 L631.3,333.8 L633.1,335.2 L635.1,336.5 L637.6,337.2 L640.0,337.8 L642.4,338.6 L644.6,339.6 L646.9,340.6 L649.3,341.5 L651.9,341.7 L654.4,341.9 L657.0,342.1 L659.5,342.3 L662.1,342.5 L664.7,342.8 L667.2,343.6 L669.7,344.3 L672.3,344.8 L674.9,345.4 L677.0,346.8 L679.1,348.2 L681.5,349.0 L683.9,349.8 L686.4,349.9 L688.8,350.0 L691.3,350.1 L693.9,350.3"/>
<path stroke-opacity="0.108" d="M497.9,97.8 L500.2,99.0 L502.2,100.6 L504.1,102.3 L506.0,104.0 L507.8,105.8 L509.6,107.8 L510.7,110.1 L511.8,112.5 L513.0,114.9 L514.3,117.1 L515.6,119.3 L516.9,121.6 L518.1,123.9 L519.3,126.2 L520.4,128.5 L521.5,130.8 L522.2,133.3 L523.0,135.7 L524.2,137.9 L525.8,139.9 L527.4,141.9 L529.0,143.9 L530.3,146.1 L531.7,148.3 L533.0,150.5 L534.2,152.8 L535.5,155.1 L536.7,157.4 L538.0,159.6 L539.4,161.9 L540.7,164.1 L541.7,166.5 L542.6,169.0 L543.4,171.4 L544.3,173.9 L545.2,176.3 L546.1,178.7 L546.9,181.1 L548.0,183.5 L549.2,185.8 L550.3,188.1 L551.4,190.4 L552.4,192.8 L553.5,195.2 L554.3,197.7 L555.0,200.2 L555.8,202.7 L556.5,205.2 L557.0,207.7 L557.6,210.2 L558.2,212.7 L559.1,215.1 L560.1,217.4 L561.2,219.8 L562.2,222.1 L563.2,224.5 L564.1,226.9 L565.1,229.2 L565.9,231.5 L566.8,233.8 L567.6,236.2 L569.1,238.1 L570.7,240.1 L572.3,242.1 L573.9,244.0 L575.6,246.0 L577.4,248.0 L578.6,250.4 L579.5,252.9 L580.4,255.5 L581.2,258.0 L581.8,260.6 L582.6,263.1 L583.3,265.5 L584.0,267.9 L585.2,270.2 L586.4,272.4 L587.5,274.7 L588.7,276.9 L589.9,279.1 L591.0,281.4 L592.2,283.7 L593.3,286.0 L594.5,288.2 L595.6,290.5 L596.8,292.7 L597.8,295.0 L599.0,297.1 L600.2,299.1 L601.4,301.2 L602.6,303.3 L603.9,305.4 L605.7,307.0 L607.8,308.5 L609.4,310.2 L610.8,312.2 L612.3,314.2 L614.0,316.4 L615.9,318.4 L618.0,320.1 L620.0,321.9 L621.6,323.8 L622.8,325.7 L623.5,327.8 L624.4,330.0 L625.9,331.5 L627.9,332.3 L629.8,332.6 L631.6,333.0 L633.3,334.4 L635.3,335.8 L637.8,336.5 L640.2,337.2 L642.5,338.0 L644.7,339.0 L647.0,340.1 L649.4,341.0 L651.9,341.2 L654.4,341.5 L657.0,341.7 L659.6,342.0 L662.2,342.2 L664.8,342.5 L667.3,343.3 L669.8,344.0 L672.5,344.4 L675.0,345.0 L677.2,346.4 L679.2,347.8 L681.6,348.6 L684.0,349.4 L686.4,349.5 L688.9,349.7 L691.4,349.8"/>
<path stroke-opacity="0.077" d="M498.0,97.7 L500.4,98.9 L502.3,100.5 L504.2,102.2 L506.1,103.9 L508.0,105.7 L509.7,107.7 L510.9,110.0 L511.9,112.4 L513.1,114.8 L514.5,117.0 L515.8,119.2 L517.1,121.5 L518.3,123.8 L519.4,126.1 L520.6,128.4 L521.6,130.7 L522.4,133.2 L523.1,135.6 L524.3,137.8 L526.0,139.8 L527.6,141.8 L529.2,143.8 L530.5,146.0 L531.8,148.2 L533.2,150.4 L534.4,152.7 L535.7,155.0 L536.9,157.3 L538.2,159.6 L539.5,161.8 L540.9,164.0 L541.9,166.4 L542.8,168.9 L543.7,171.3 L544.5,173.8 L545.4,176.2 L546.3,178.6 L547.2,181.0 L548.2,183.4 L549.4,185.7 L550.5,188.0 L551.6,190.3 L552.6,192.7 L553.7,195.1 L554.5,197.6 L555.3,200.1 L556.0,202.6 L556.7,205.1 L557.3,207.6 L557.9,210.1 L558.4,212.6 L559.3,215.0 L560.4,217.3 L561.5,219.6 L562.5,222.0 L563.5,224.4 L564.5,226.7 L565.4,229.0 L566.3,231.3 L567.2,233.6 L567.9,236.0 L569.4,237.9 L571.0,239.8 L572.6,241.8 L574.2,243.8 L575.9,245.8 L577.7,247.8 L579.0,250.2 L579.8,252.8 L580.7,255.4 L581.5,257.9 L582.2,260.5 L583.0,262.9 L583.7,265.4 L584.5,267.8 L585.7,270.0 L586.9,272.2 L588.1,274.4 L589.3,276.6 L590.5,278.8 L591.7,281.1 L592.9,283.4 L594.0,285.7 L595.2,287.9 L596.3,290.1 L597.5,292.3 L598.6,294.6 L599.8,296.7 L600.9,298.7 L602.0,300.7 L603.3,302.8 L604.5,305.0 L606.4,306.5 L608.4,307.9 L610.0,309.7 L611.4,311.6 L612.9,313.6 L614.6,315.8 L616.5,317.9 L618.7,319.6 L620.7,321.4 L622.3,323.3 L623.4,325.1 L624.2,327.2 L625.0,329.4 L626.6,330.7 L628.5,331.5 L630.2,331.8 L632.0,332.2 L633.6,333.6 L635.5,335.0 L638.0,335.8 L640.4,336.5 L642.7,337.3 L644.8,338.4 L647.1,339.6 L649.5,340.5 L652.0,340.8 L654.5,341.1 L657.1,341.4 L659.6,341.6 L662.2,341.9 L664.8,342.2 L667.3,343.0 L669.9,343.6 L672.6,344.0 L675.2,344.5 L677.3,345.9 L679.4,347.3 L681.7,348.2 L684.1,349.0 L686.5,349.2 L688.9,349.3 L691.4,349.4"/>
<path stroke-opacity="0.029" d="M498.1,97.6 L500.5,98.8 L502.5,100.4 L504.4,102.1 L506.3,103.8 L508.1,105.6 L509.9,107.5 L511.0,109.9 L512.1,112.3 L513.3,114.7 L514.7,116.9 L516.0,119.1 L517.3,121.4 L518.5,123.7 L519.6,126.0 L520.8,128.3 L521.8,130.7 L522.6,133.1 L523.3,135.5 L524.5,137.7 L526.1,139.7 L527.8,141.7 L529.3,143.7 L530.7,145.9 L532.0,148.1 L533.4,150.3 L534.6,152.6 L535.9,154.9 L537.1,157.2 L538.4,159.5 L539.7,161.7 L541.1,163.9 L542.1,166.4 L543.0,168.8 L543.9,171.3 L544.7,173.7 L545.6,176.1 L546.5,178.5 L547.4,180.9 L548.4,183.3 L549.6,185.6 L550.8,187.9 L551.8,190.3 L552.9,192.6 L553.9,195.0 L554.7,197.5 L555.5,200.0 L556.2,202.5 L557.0,205.0 L557.5,207.5 L558.1,210.0 L558.7,212.5 L559.6,214.9 L560.7,217.2 L561.8,219.5 L562.8,221.9 L563.8,224.2 L564.8,226.6 L565.8,228.9 L566.7,231.2 L567.6,233.4 L568.3,235.8 L569.8,237.7 L571.3,239.6 L572.9,241.6 L574.6,243.6 L576.3,245.6 L578.0,247.6 L579.3,250.0 L580.2,252.6 L581.0,255.2 L581.9,257.8 L582.5,260.4 L583.4,262.8 L584.2,265.2 L585.0,267.6 L586.2,269.9 L587.5,272.0 L588.7,274.2 L589.9,276.4 L591.2,278.6 L592.3,280.8 L593.5,283.1 L594.7,285.3 L595.9,287.6 L597.0,289.8 L598.2,292.0 L599.3,294.2 L600.5,296.3 L601.6,298.3 L602.7,300.2 L603.9,302.3 L605.1,304.5 L607.0,306.0 L609.0,307.4 L610.6,309.2 L612.0,311.0 L613.5,313.1 L615.2,315.3 L617.2,317.4 L619.3,319.2 L621.3,321.0 L623.0,322.8 L624.1,324.6 L624.8,326.6 L625.6,328.8 L627.3,330.0 L629.1,330.8 L630.7,331.1 L632.3,331.4 L633.8,332.8 L635.7,334.3 L638.2,335.1 L640.6,335.9 L642.9,336.7 L645.0,337.9 L647.2,339.0 L649.5,340.0 L652.0,340.4 L654.5,340.7 L657.1,341.0 L659.7,341.3 L662.3,341.6 L664.9,341.9 L667.4,342.7 L670.0,343.3 L672.7,343.6 L675.3,344.1 L677.4,345.5 L679.5,346.9 L681.8,347.8 L684.1,348.6 L686.6,348.8 L689.0,348.9"/>
<path stroke-opacity="0.136" d="M699.0,352.3 L704.0,352.3"/>
<path stroke-opacity="0.136" d="M699.0,352.0 L707.5,352.0"/>
<path stroke-opacity="0.136" d="M699.0,352.4 L711.0,352.4"/>
<path stroke-opacity="0.136" d="M699.0,352.2 L714.0,352.2"/>
<path stroke-opacity="0.136" d="M699.0,352.3 L717.0,352.3"/>
</g>
<path d="M496.3,85.7 L496.3,97.4 L498.5,97.4 L498.5,99.9 L501.8,99.9 L501.8,102.5 L504.4,102.5 L504.4,105.8 L508.5,105.8 L508.5,110.7 L511.4,110.7 L511.4,118.6 L515.6,118.6 L515.6,124.8 L518.7,124.8 L518.7,130.6 L521.6,130.6 L521.6,138.4 L524.5,138.4 L524.5,142.0 L527.4,142.0 L527.4,146.0 L530.3,146.0 L530.3,150.8 L533.2,150.8 L533.2,156.1 L536.1,156.1 L536.1,161.3 L539.0,161.3 L539.0,166.9 L541.9,166.9 L541.9,174.9 L544.8,174.9 L544.8,182.9 L547.7,182.9 L547.7,188.7 L550.6,188.7 L550.6,195.5 L553.5,195.5 L553.5,205.3 L556.4,205.3 L556.4,216.4 L559.3,216.4 L559.3,223.8 L562.2,223.8 L562.2,232.0 L565.1,232.0 L565.1,238.8 L567.1,238.8 L567.1,240.6 L569.1,240.6 L569.1,243.1 L571.1,243.1 L571.1,245.4 L573.1,245.4 L573.1,247.6 L575.1,247.6 L575.1,249.9 L577.1,249.9 L577.1,255.4 L579.1,255.4 L579.1,262.9 L579.2,264.2 L580.6,265.8 L580.2,267.0 L581.6,268.7 L581.2,269.8 L582.7,271.4 L582.4,272.5 L583.9,274.2 L583.5,275.3 L585.0,277.0 L584.7,278.1 L586.2,279.7 L585.9,280.8 L587.4,282.5 L587.1,283.6 L588.6,285.2 L588.3,286.3 L589.8,288.0 L589.5,289.1 L591.1,290.7 L590.8,291.8 L592.3,293.4 L592.0,294.5 L593.6,296.2 L593.3,297.2 L595.0,298.8 L594.8,299.8 L596.5,301.4 L596.3,302.4 L598.0,304.0 L597.8,305.0 L599.5,306.6 L599.3,307.6 L601.1,309.1 L601.4,309.7 L603.5,310.8 L603.9,311.4 L605.8,312.8 L605.8,313.7 L607.6,315.2 L607.6,316.1 L609.4,317.6 L609.4,318.5 L611.2,320.0 L611.3,320.8 L613.3,322.0 L613.6,322.7 L615.7,323.9 L615.9,324.7 L617.8,326.0 L617.7,327.0 L619.3,328.6 L619.0,329.7 L620.5,331.3 L620.1,332.5 L621.5,334.2 L621.1,335.3 L623.3,336.3 L624.8,336.9 L629.8,337.6 L633.6,340.1 L641.0,341.3 L648.6,343.8 L664.9,344.1 L668.0,345.7 L673.7,347.3 L678.7,350.3 L683.7,351.7 L700.0,352.1" fill="none" stroke="#0000ff" stroke-width="2.2" stroke-linejoin="miter"/>
<line x1="533.8" y1="130.0" x2="537.7" y2="139.2" stroke="#ff0000" stroke-width="2.0" stroke-linecap="butt"/><line x1="543.7" y1="168.3" x2="544.5" y2="171.7" stroke="#ff0000" stroke-width="2.0" stroke-linecap="butt"/><line x1="553.7" y1="210.0" x2="555.8" y2="217.5" stroke="#ff0000" stroke-width="2.0" stroke-linecap="butt"/><line x1="573.0" y1="245.0" x2="575.0" y2="251.7" stroke="#ff0000" stroke-width="2.0" stroke-linecap="butt"/><line x1="600.3" y1="294.7" x2="608.3" y2="300.5" stroke="#ff0000" stroke-width="2.0" stroke-linecap="butt"/><line x1="641.5" y1="319.3" x2="650.8" y2="321.8" stroke="#ff0000" stroke-width="2.0" stroke-linecap="butt"/><line x1="685.0" y1="332.5" x2="690.0" y2="334.7" stroke="#ff0000" stroke-width="2.0" stroke-linecap="butt"/><line x1="706.0" y1="337.6" x2="717.5" y2="338.6" stroke="#ff0000" stroke-width="2.0" stroke-linecap="butt"/><line x1="749.2" y1="343.0" x2="784.0" y2="345.0" stroke="#ff0000" stroke-width="2.0" stroke-linecap="butt"/>
<circle cx="668.0" cy="326.7" r="1.1" fill="#ff0000"/>
<circle cx="524.0" cy="110.0" r="2.0" fill="#ff0000"/><circle cx="531.3" cy="122.8" r="2.0" fill="#ff0000"/><circle cx="540.7" cy="147.0" r="2.0" fill="#ff0000"/><circle cx="543.0" cy="159.7" r="2.0" fill="#ff0000"/><circle cx="545.0" cy="180.5" r="2.0" fill="#ff0000"/><circle cx="547.5" cy="192.8" r="2.0" fill="#ff0000"/><circle cx="552.0" cy="201.7" r="2.0" fill="#ff0000"/><circle cx="557.0" cy="226.2" r="2.0" fill="#ff0000"/><circle cx="571.7" cy="236.7" r="2.0" fill="#ff0000"/><circle cx="576.7" cy="259.7" r="2.0" fill="#ff0000"/><circle cx="581.2" cy="270.2" r="2.0" fill="#ff0000"/><circle cx="586.2" cy="277.2" r="2.0" fill="#ff0000"/><circle cx="593.7" cy="290.0" r="2.0" fill="#ff0000"/><circle cx="615.7" cy="305.2" r="2.0" fill="#ff0000"/><circle cx="630.0" cy="308.7" r="2.0" fill="#ff0000"/><circle cx="632.8" cy="317.7" r="2.0" fill="#ff0000"/><circle cx="659.7" cy="323.0" r="2.0" fill="#ff0000"/><circle cx="676.7" cy="330.3" r="2.0" fill="#ff0000"/><circle cx="698.7" cy="337.3" r="2.0" fill="#ff0000"/><circle cx="725.8" cy="338.8" r="2.0" fill="#ff0000"/><circle cx="740.8" cy="342.5" r="2.0" fill="#ff0000"/>
<line x1="502.7" y1="92.5" x2="504.7" y2="95.8" stroke="#00ee00" stroke-width="2.0" stroke-linecap="butt"/><line x1="511.0" y1="110.8" x2="514.7" y2="126.7" stroke="#00ee00" stroke-width="2.0" stroke-linecap="butt"/><line x1="518.5" y1="143.3" x2="527.5" y2="166.7" stroke="#00ee00" stroke-width="2.0" stroke-linecap="butt"/><line x1="533.3" y1="183.3" x2="534.7" y2="186.3" stroke="#00ee00" stroke-width="2.0" stroke-linecap="butt"/><line x1="547.0" y1="220.8" x2="550.0" y2="233.3" stroke="#00ee00" stroke-width="2.0" stroke-linecap="butt"/><line x1="555.3" y1="250.0" x2="573.3" y2="290.0" stroke="#00ee00" stroke-width="2.0" stroke-linecap="butt"/><line x1="586.3" y1="317.5" x2="595.0" y2="328.3" stroke="#00ee00" stroke-width="2.0" stroke-linecap="butt"/>
<rect x="497.1" y="84.3" width="2.8" height="2.8" fill="#00ee00"/><rect x="507.9" y="101.6" width="2.8" height="2.8" fill="#00ee00"/><rect x="514.6" y="133.3" width="2.8" height="2.8" fill="#00ee00"/><rect x="528.6" y="173.6" width="2.8" height="2.8" fill="#00ee00"/><rect x="536.1" y="193.1" width="2.8" height="2.8" fill="#00ee00"/><rect x="543.3" y="210.8" width="2.8" height="2.8" fill="#00ee00"/><rect x="539.8" y="201.9" width="2.8" height="2.8" fill="#00ee00"/><rect x="550.8" y="240.8" width="2.8" height="2.8" fill="#00ee00"/><rect x="579.9" y="308.6" width="2.8" height="2.8" fill="#00ee00"/><rect x="598.9" y="333.9" width="2.8" height="2.8" fill="#00ee00"/><rect x="611.4" y="341.1" width="2.8" height="2.8" fill="#00ee00"/><rect x="616.1" y="346.4" width="2.8" height="2.8" fill="#00ee00"/>
<path d="M509.3,85.7 L522.7,85.7 L523,113.3 L524.7,113.3 L525.7,127.5 L526.5,127.5 L527.5,155 L530,155 L531.8,213 L539.2,213 L539.2,225.8 L540.8,225.8 L540.8,240.5 L544.7,240.5 L545.2,267.5 L550.8,267.5 L550.8,282.8 L573.7,282.8 L573.7,298.7 L579.2,298.7 L579.2,312.5 L584.2,312.5 L584.2,325.2 L689.7,325.2 L689.7,340.5" fill="none" stroke="#00ffff" stroke-width="1.8" stroke-linejoin="miter"/>
<line x1="606.2" y1="112.40" x2="662.8" y2="112.40" stroke="#0000ff" stroke-width="1.9"/>
<path class="h" stroke-width="0.68" d="M674.25,115.90 674.25,108.96M669.62,115.90 669.62,108.96M669.62,112.26 674.25,112.26M681.52,113.26 681.19,114.25 680.86,114.91 680.20,115.57 679.21,115.90 676.89,115.90 676.89,108.96 679.21,108.96 680.20,109.29 680.86,109.95 681.19,110.61 681.52,111.60 681.52,113.26M691.43,115.90 691.43,108.96 690.44,109.95 689.78,110.28M695.40,113.59 695.40,114.58 695.73,115.24 696.06,115.57 697.05,115.90 698.38,115.90 699.37,115.57 699.70,115.24 700.03,114.58 700.03,113.59 699.70,112.93 699.04,112.26 698.04,111.93 696.72,111.60 696.06,111.27 695.73,110.61 695.73,109.95 696.06,109.29 697.05,108.96 698.38,108.96 699.37,109.29 699.70,109.95 699.70,110.61 699.37,111.27 698.71,111.60 697.38,111.93 696.39,112.26 695.73,112.93 695.40,113.59M702.34,114.91 702.67,115.57 703.66,115.90 704.32,115.90 705.32,115.57 705.98,114.58 706.31,112.93 706.31,111.27 705.98,109.95 705.32,109.29 704.32,108.96 703.99,108.96 703.00,109.29 702.34,109.95 702.01,110.94 702.01,111.27 702.34,112.26 703.00,112.93 703.99,113.26 704.32,113.26 705.32,112.93 705.98,112.26 706.31,111.27M709.94,115.90 713.25,108.96 708.62,108.96M715.89,108.96 719.53,108.96 717.54,111.60 718.54,111.60 719.20,111.93 719.53,112.26 719.86,113.26 719.86,113.92 719.53,114.91 718.87,115.57 717.88,115.90 716.88,115.90 715.89,115.57 715.56,115.24 715.23,114.58M722.50,108.96 726.14,108.96 724.15,111.60 725.15,111.60 725.81,111.93 726.14,112.26 726.47,113.26 726.47,113.92 726.14,114.91 725.48,115.57 724.49,115.90 723.49,115.90 722.50,115.57 722.17,115.24 721.84,114.58"/><text class="x" x="668.3" y="115.9" font-size="9.9" textLength="59.2">HD 189733</text>
<line x1="606.2" y1="125.64" x2="662.8" y2="125.64" stroke="#ff0000" stroke-width="1.9"/>
<path class="h" stroke-width="0.68" d="M669.62,129.14 669.62,122.20 672.60,122.20 673.59,122.53 673.92,122.86 674.25,123.52 674.25,124.51 673.92,125.17 673.59,125.50 672.60,125.83 669.62,125.83M676.56,129.14 676.56,122.20M682.18,124.84 681.52,124.51 680.53,124.51 679.87,124.84 679.21,125.50 678.88,126.50 682.84,126.50 682.84,125.83 682.51,125.17 682.18,124.84M682.84,128.15 682.18,128.81 681.52,129.14 680.53,129.14 679.87,128.81 679.21,128.15 678.88,127.16 678.88,126.50M685.16,129.14 685.16,124.51M684.82,122.20 685.16,122.53 685.49,122.20 685.16,121.87 684.82,122.20M691.43,129.14 691.43,124.51M691.43,128.15 690.77,128.81 690.11,129.14 689.12,129.14 688.46,128.81 687.80,128.15 687.47,127.16 687.47,126.50 687.80,125.50 688.46,124.84 689.12,124.51 690.11,124.51 690.77,124.84 691.43,125.50M697.71,129.14 697.71,122.20M697.71,128.15 697.05,128.81 696.39,129.14 695.40,129.14 694.74,128.81 694.08,128.15 693.75,127.16 693.75,126.50 694.08,125.50 694.74,124.84 695.40,124.51 696.39,124.51 697.05,124.84 697.71,125.50M703.33,124.84 702.67,124.51 701.68,124.51 701.02,124.84 700.36,125.50 700.03,126.50 703.99,126.50 703.99,125.83 703.66,125.17 703.33,124.84M703.99,128.15 703.33,128.81 702.67,129.14 701.68,129.14 701.02,128.81 700.36,128.15 700.03,127.16 700.03,126.50M705.98,128.15 706.31,128.81 707.30,129.14 708.29,129.14 709.28,128.81 709.61,128.15 709.61,127.82 709.28,127.16 708.62,126.83 706.97,126.50 706.31,126.17 705.98,125.50 706.31,124.84 707.30,124.51 708.29,124.51 709.28,124.84 709.61,125.50M720.85,129.14 720.85,122.20M720.85,128.15 720.19,128.81 719.53,129.14 718.54,129.14 717.87,128.81 717.21,128.15 716.88,127.16 716.88,126.50 717.21,125.50 717.87,124.84 718.54,124.51 719.53,124.51 720.19,124.84 720.85,125.50M723.49,129.14 723.49,122.20M723.49,126.83 728.12,122.20M728.12,129.14 725.15,125.17M730.76,122.20 734.40,122.20 732.42,124.84 733.41,124.84 734.07,125.17 734.40,125.50 734.73,126.50 734.73,127.16 734.40,128.15 733.74,128.81 732.75,129.14 731.76,129.14 730.76,128.81 730.43,128.48 730.10,127.82M737.04,126.17 742.99,126.17M749.27,129.14 749.27,122.20M749.27,128.15 748.61,128.81 747.95,129.14 746.96,129.14 746.30,128.81 745.64,128.15 745.31,127.16 745.31,126.50 745.64,125.50 746.30,124.84 746.96,124.51 747.95,124.51 748.61,124.84 749.27,125.50M751.92,129.14 751.92,122.20 754.56,129.14 757.20,122.20 757.20,129.14"/><text class="x" x="668.3" y="129.1" font-size="9.9" textLength="90.2">Pleiades dK3−dM</text>
<line x1="606.2" y1="138.88" x2="662.8" y2="138.88" stroke="#00ffff" stroke-width="1.9"/>
<path class="h" stroke-width="0.68" d="M674.25,135.44 674.25,142.38 669.62,135.44 669.62,142.38M679.87,139.74 681.52,139.74 681.52,140.73 681.19,141.39 680.53,142.05 679.87,142.38 678.55,142.38 677.88,142.05 677.22,141.39 676.89,140.73 676.56,139.74 676.56,138.08 676.89,137.09 677.22,136.43 677.88,135.77 678.55,135.44 679.87,135.44 680.53,135.77 681.19,136.43 681.52,137.09M688.46,140.73 688.13,141.39 687.47,142.05 686.81,142.38 685.49,142.38 684.82,142.05 684.16,141.39 683.83,140.73 683.50,139.74 683.50,138.08 683.83,137.09 684.16,136.43 684.82,135.77 685.49,135.44 686.81,135.44 687.47,135.77 688.13,136.43 688.46,137.09M700.36,142.38 695.73,142.38 699.04,139.07 699.70,138.08 700.03,137.42 700.03,136.76 699.70,136.10 699.37,135.77 698.71,135.44 697.38,135.44 696.72,135.77 696.39,136.10 696.06,136.76 696.06,137.09M702.34,141.06 702.67,141.72 703.00,142.05 703.99,142.38 704.99,142.38 705.98,142.05 706.64,141.39 706.97,140.40 706.97,139.74 706.64,138.74 705.98,138.08 704.99,137.75 703.99,137.75 703.00,138.08 702.67,138.41 703.00,135.44 706.31,135.44M711.60,142.38 711.60,135.44 710.60,136.43 709.94,136.76M715.89,140.07 716.22,139.07 716.88,138.41 717.88,138.08 718.21,138.08 719.20,138.41 719.86,139.07 720.19,140.07 720.19,140.40 719.86,141.39 719.20,142.05 718.21,142.38 717.88,142.38 716.88,142.05 716.22,141.39 715.89,140.07 715.89,138.41 716.22,136.76 716.88,135.77 717.88,135.44 718.54,135.44 719.53,135.77 719.86,136.43"/><text class="x" x="668.3" y="142.4" font-size="9.9" textLength="52.9">NGC 2516</text>
<line x1="606.2" y1="152.12" x2="662.8" y2="152.12" stroke="#00ee00" stroke-width="1.9"/>
<path class="h" stroke-width="0.68" d="M669.62,155.62 669.62,148.68 672.60,148.68 673.59,149.01 673.92,149.34 674.25,150.00 674.25,150.99 673.92,151.65 673.59,151.98 672.60,152.31 669.62,152.31M676.56,155.62 676.56,148.68M682.18,151.32 681.52,150.99 680.53,150.99 679.87,151.32 679.21,151.98 678.88,152.98 682.84,152.98 682.84,152.31 682.51,151.65 682.18,151.32M682.84,154.63 682.18,155.29 681.52,155.62 680.53,155.62 679.87,155.29 679.21,154.63 678.88,153.64 678.88,152.98M685.16,155.62 685.16,150.99M684.82,148.68 685.16,149.01 685.49,148.68 685.16,148.35 684.82,148.68M691.43,155.62 691.43,150.99M691.43,154.63 690.77,155.29 690.11,155.62 689.12,155.62 688.46,155.29 687.80,154.63 687.47,153.64 687.47,152.98 687.80,151.98 688.46,151.32 689.12,150.99 690.11,150.99 690.77,151.32 691.43,151.98M697.71,155.62 697.71,148.68M697.71,154.63 697.05,155.29 696.39,155.62 695.40,155.62 694.74,155.29 694.08,154.63 693.75,153.64 693.75,152.98 694.08,151.98 694.74,151.32 695.40,150.99 696.39,150.99 697.05,151.32 697.71,151.98M703.33,151.32 702.67,150.99 701.68,150.99 701.02,151.32 700.36,151.98 700.03,152.98 703.99,152.98 703.99,152.31 703.66,151.65 703.33,151.32M703.99,154.63 703.33,155.29 702.67,155.62 701.68,155.62 701.02,155.29 700.36,154.63 700.03,153.64 700.03,152.98M705.98,154.63 706.31,155.29 707.30,155.62 708.29,155.62 709.28,155.29 709.61,154.63 709.61,154.30 709.28,153.64 708.62,153.31 706.97,152.98 706.31,152.65 705.98,151.98 706.31,151.32 707.30,150.99 708.29,150.99 709.28,151.32 709.61,151.98M720.85,155.62 720.85,148.68M720.85,154.63 720.19,155.29 719.53,155.62 718.54,155.62 717.87,155.29 717.21,154.63 716.88,153.64 716.88,152.98 717.21,151.98 717.87,151.32 718.54,150.99 719.53,150.99 720.19,151.32 720.85,151.98M723.49,155.62 723.49,148.68 727.79,148.68M723.49,151.98 726.14,151.98M730.43,155.62 733.74,148.68 729.11,148.68M736.05,152.65 742.00,152.65M748.28,155.62 748.28,148.68M748.28,154.63 747.62,155.29 746.96,155.62 745.97,155.62 745.31,155.29 744.65,154.63 744.31,153.64 744.31,152.98 744.65,151.98 745.31,151.32 745.97,150.99 746.96,150.99 747.62,151.32 748.28,151.98M750.92,155.62 750.92,148.68M750.92,153.31 755.55,148.68M755.55,155.62 752.58,151.65M762.16,155.62 757.53,155.62 760.84,152.31 761.50,151.32 761.83,150.66 761.83,150.00 761.50,149.34 761.17,149.01 760.51,148.68 759.19,148.68 758.53,149.01 758.20,149.34 757.87,150.00 757.87,150.33"/><text class="x" x="668.3" y="155.6" font-size="9.9" textLength="94.9">Pleiades dF7−dK2</text>
</svg>
</body></html>
